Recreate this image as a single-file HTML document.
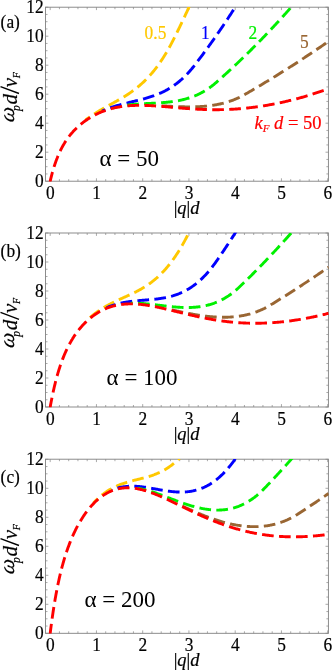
<!DOCTYPE html>
<html><head><meta charset="utf-8"><style>
html,body{margin:0;padding:0;background:#fff;}
svg{display:block;font-family:"Liberation Serif",serif;font-size:17px;fill:#000;}
</style></head><body>
<svg width="332" height="670" viewBox="0 0 332 670">
<rect width="332" height="670" fill="#fff"/>
<g style="will-change:transform">
<clipPath id="c0"><rect x="45.2" y="6.9" width="283.5" height="174.6"/></clipPath>
<rect x="45.5" y="7.2" width="282.9" height="174.0" fill="none" stroke="#808080" stroke-width="0.9"/>
<path d="M50.20 181.2 v-2.9 M50.20 7.2 v2.9 M59.45 181.2 v-2.0 M59.45 7.2 v2.0 M68.70 181.2 v-2.0 M68.70 7.2 v2.0 M77.95 181.2 v-2.0 M77.95 7.2 v2.0 M87.20 181.2 v-2.0 M87.20 7.2 v2.0 M96.45 181.2 v-2.9 M96.45 7.2 v2.9 M105.70 181.2 v-2.0 M105.70 7.2 v2.0 M114.95 181.2 v-2.0 M114.95 7.2 v2.0 M124.20 181.2 v-2.0 M124.20 7.2 v2.0 M133.45 181.2 v-2.0 M133.45 7.2 v2.0 M142.70 181.2 v-2.9 M142.70 7.2 v2.9 M151.95 181.2 v-2.0 M151.95 7.2 v2.0 M161.20 181.2 v-2.0 M161.20 7.2 v2.0 M170.45 181.2 v-2.0 M170.45 7.2 v2.0 M179.70 181.2 v-2.0 M179.70 7.2 v2.0 M188.95 181.2 v-2.9 M188.95 7.2 v2.9 M198.20 181.2 v-2.0 M198.20 7.2 v2.0 M207.45 181.2 v-2.0 M207.45 7.2 v2.0 M216.70 181.2 v-2.0 M216.70 7.2 v2.0 M225.95 181.2 v-2.0 M225.95 7.2 v2.0 M235.20 181.2 v-2.9 M235.20 7.2 v2.9 M244.45 181.2 v-2.0 M244.45 7.2 v2.0 M253.70 181.2 v-2.0 M253.70 7.2 v2.0 M262.95 181.2 v-2.0 M262.95 7.2 v2.0 M272.20 181.2 v-2.0 M272.20 7.2 v2.0 M281.45 181.2 v-2.9 M281.45 7.2 v2.9 M290.70 181.2 v-2.0 M290.70 7.2 v2.0 M299.95 181.2 v-2.0 M299.95 7.2 v2.0 M309.20 181.2 v-2.0 M309.20 7.2 v2.0 M318.45 181.2 v-2.0 M318.45 7.2 v2.0 M327.70 181.2 v-2.9 M327.70 7.2 v2.9 M45.5 181.20 h2.9 M328.4 181.20 h-2.9 M45.5 173.95 h2.0 M328.4 173.95 h-2.0 M45.5 166.70 h2.0 M328.4 166.70 h-2.0 M45.5 159.45 h2.0 M328.4 159.45 h-2.0 M45.5 152.20 h2.9 M328.4 152.20 h-2.9 M45.5 144.95 h2.0 M328.4 144.95 h-2.0 M45.5 137.70 h2.0 M328.4 137.70 h-2.0 M45.5 130.45 h2.0 M328.4 130.45 h-2.0 M45.5 123.20 h2.9 M328.4 123.20 h-2.9 M45.5 115.95 h2.0 M328.4 115.95 h-2.0 M45.5 108.70 h2.0 M328.4 108.70 h-2.0 M45.5 101.45 h2.0 M328.4 101.45 h-2.0 M45.5 94.20 h2.9 M328.4 94.20 h-2.9 M45.5 86.95 h2.0 M328.4 86.95 h-2.0 M45.5 79.70 h2.0 M328.4 79.70 h-2.0 M45.5 72.45 h2.0 M328.4 72.45 h-2.0 M45.5 65.20 h2.9 M328.4 65.20 h-2.9 M45.5 57.95 h2.0 M328.4 57.95 h-2.0 M45.5 50.70 h2.0 M328.4 50.70 h-2.0 M45.5 43.45 h2.0 M328.4 43.45 h-2.0 M45.5 36.20 h2.9 M328.4 36.20 h-2.9 M45.5 28.95 h2.0 M328.4 28.95 h-2.0 M45.5 21.70 h2.0 M328.4 21.70 h-2.0 M45.5 14.45 h2.0 M328.4 14.45 h-2.0 M45.5 7.20 h2.9 M328.4 7.20 h-2.9" stroke="#858585" stroke-width="0.7" fill="none"/>
<g clip-path="url(#c0)" fill="none" stroke-width="2.9" stroke-dasharray="11.7 5.3">
<path d="M85.74 119.87 L86.52 119.28 L87.29 118.70 L88.07 118.13 L88.84 117.57 L89.62 117.03 L90.40 116.49 L91.17 115.96 L91.95 115.43 L92.72 114.92 L93.50 114.41 L94.28 113.91 L95.05 113.41 L95.83 112.93 L96.60 112.45 L97.38 111.97 L98.16 111.50 L98.93 111.03 L99.71 110.57 L100.48 110.12 L101.26 109.67 L102.04 109.22 L102.81 108.77 L103.59 108.33 L104.36 107.89 L105.14 107.46 L105.92 107.02 L106.69 106.59 L107.47 106.16 L108.24 105.73 L109.02 105.30 L109.80 104.88 L110.57 104.45 L111.35 104.02 L112.12 103.60 L112.90 103.17 L113.68 102.74 L114.45 102.31 L115.23 101.88 L116.00 101.44 L116.78 101.01 L117.56 100.57 L118.33 100.13 L119.11 99.68 L119.88 99.23 L120.66 98.78 L121.44 98.32 L122.21 97.86 L122.99 97.39 L123.76 96.92 L124.54 96.44 L125.32 95.96 L126.09 95.47 L126.87 94.97 L127.64 94.47 L128.42 93.96 L129.20 93.44 L129.97 92.91 L130.75 92.37 L131.52 91.82 L132.30 91.27 L133.08 90.70 L133.85 90.13 L134.63 89.54 L135.40 88.95 L136.18 88.34 L136.96 87.72 L137.73 87.09 L138.51 86.45 L139.28 85.80 L140.06 85.13 L140.84 84.45 L141.61 83.76 L142.39 83.05 L143.16 82.33 L143.94 81.59 L144.72 80.84 L145.49 80.07 L146.27 79.29 L147.04 78.49 L147.82 77.68 L148.60 76.85 L149.37 76.00 L150.15 75.14 L150.92 74.26 L151.70 73.36 L152.48 72.44 L153.25 71.50 L154.03 70.55 L154.80 69.58 L155.58 68.58 L156.36 67.57 L157.13 66.54 L157.91 65.48 L158.68 64.41 L159.46 63.31 L160.24 62.20 L161.01 61.06 L161.79 59.90 L162.56 58.72 L163.34 57.51 L164.12 56.28 L164.89 55.03 L165.67 53.76 L166.44 52.46 L167.22 51.14 L168.00 49.79 L168.77 48.41 L169.55 47.02 L170.32 45.59 L171.10 44.14 L171.88 42.67 L172.65 41.16 L173.43 39.63 L174.20 38.09 L174.98 36.54 L175.76 34.98 L176.53 33.41 L177.31 31.83 L178.08 30.25 L178.86 28.65 L179.64 27.05 L180.41 25.44 L181.19 23.83 L181.96 22.20 L182.74 20.57 L183.52 18.93 L184.29 17.28 L185.07 15.62 L185.84 13.95 L186.62 12.28 L187.40 10.60 L188.17 8.91 L188.95 7.21 L189.72 5.50 L190.50 3.78 L191.28 2.06 L192.05 0.33 L192.83 -1.41 L193.60 -3.16" stroke="#ffc800" stroke-dashoffset="6.75"/>
<path d="M102.04 111.07 L102.81 110.73 L103.59 110.40 L104.36 110.07 L105.14 109.76 L105.92 109.45 L106.69 109.14 L107.47 108.85 L108.24 108.56 L109.02 108.27 L109.80 107.99 L110.57 107.72 L111.35 107.46 L112.12 107.20 L112.90 106.94 L113.68 106.69 L114.45 106.44 L115.23 106.20 L116.00 105.97 L116.78 105.74 L117.56 105.51 L118.33 105.29 L119.11 105.07 L119.88 104.85 L120.66 104.64 L121.44 104.43 L122.21 104.22 L122.99 104.02 L123.76 103.82 L124.54 103.62 L125.32 103.42 L126.09 103.23 L126.87 103.04 L127.64 102.85 L128.42 102.66 L129.20 102.47 L129.97 102.28 L130.75 102.09 L131.52 101.91 L132.30 101.72 L133.08 101.53 L133.85 101.35 L134.63 101.16 L135.40 100.97 L136.18 100.78 L136.96 100.59 L137.73 100.40 L138.51 100.21 L139.28 100.02 L140.06 99.82 L140.84 99.62 L141.61 99.42 L142.39 99.21 L143.16 99.01 L143.94 98.80 L144.72 98.58 L145.49 98.36 L146.27 98.14 L147.04 97.92 L147.82 97.69 L148.60 97.45 L149.37 97.21 L150.15 96.96 L150.92 96.71 L151.70 96.45 L152.48 96.19 L153.25 95.92 L154.03 95.65 L154.80 95.36 L155.58 95.07 L156.36 94.77 L157.13 94.47 L157.91 94.16 L158.68 93.84 L159.46 93.51 L160.24 93.17 L161.01 92.82 L161.79 92.46 L162.56 92.10 L163.34 91.72 L164.12 91.34 L164.89 90.94 L165.67 90.54 L166.44 90.12 L167.22 89.69 L168.00 89.25 L168.77 88.80 L169.55 88.34 L170.32 87.86 L171.10 87.37 L171.88 86.87 L172.65 86.36 L173.43 85.83 L174.20 85.29 L174.98 84.74 L175.76 84.17 L176.53 83.59 L177.31 82.99 L178.08 82.38 L178.86 81.75 L179.64 81.11 L180.41 80.45 L181.19 79.78 L181.96 79.08 L182.74 78.38 L183.52 77.65 L184.29 76.91 L185.07 76.15 L185.84 75.37 L186.62 74.57 L187.40 73.76 L188.17 72.93 L188.95 72.07 L189.72 71.20 L190.50 70.31 L191.28 69.40 L192.05 68.46 L192.83 67.51 L193.60 66.54 L194.38 65.54 L195.16 64.54 L195.93 63.53 L196.71 62.52 L197.48 61.50 L198.26 60.48 L199.04 59.46 L199.81 58.43 L200.59 57.40 L201.36 56.36 L202.14 55.32 L202.91 54.28 L203.69 53.23 L204.47 52.17 L205.24 51.12 L206.02 50.06 L206.79 48.99 L207.57 47.92 L208.35 46.85 L209.12 45.77 L209.90 44.69 L210.67 43.61 L211.45 42.52 L212.23 41.42 L213.00 40.33 L213.78 39.22 L214.55 38.12 L215.33 37.01 L216.11 35.89 L216.88 34.78 L217.66 33.65 L218.43 32.53 L219.21 31.40 L219.99 30.26 L220.76 29.12 L221.54 27.98 L222.31 26.84 L223.09 25.69 L223.87 24.53 L224.64 23.37 L225.42 22.21 L226.19 21.04 L226.97 19.87 L227.75 18.70 L228.52 17.52 L229.30 16.33 L230.07 15.15 L230.85 13.95 L231.63 12.76 L232.40 11.56 L233.18 10.35 L233.95 9.15 L234.73 7.94 L235.51 6.72 L236.28 5.50 L237.06 4.28 L237.83 3.05 L238.61 1.81 L239.39 0.58 L240.16 -0.66 L240.94 -1.91" stroke="#0000ff" stroke-dashoffset="8.20"/>
<path d="M123.76 105.64 L124.54 105.52 L125.32 105.41 L126.09 105.29 L126.87 105.19 L127.64 105.09 L128.42 104.99 L129.20 104.89 L129.97 104.80 L130.75 104.72 L131.52 104.63 L132.30 104.56 L133.08 104.48 L133.85 104.41 L134.63 104.34 L135.40 104.27 L136.18 104.21 L136.96 104.15 L137.73 104.09 L138.51 104.03 L139.28 103.98 L140.06 103.93 L140.84 103.88 L141.61 103.83 L142.39 103.78 L143.16 103.74 L143.94 103.69 L144.72 103.65 L145.49 103.61 L146.27 103.57 L147.04 103.53 L147.82 103.49 L148.60 103.45 L149.37 103.41 L150.15 103.37 L150.92 103.33 L151.70 103.29 L152.48 103.25 L153.25 103.21 L154.03 103.17 L154.80 103.13 L155.58 103.09 L156.36 103.04 L157.13 103.00 L157.91 102.95 L158.68 102.90 L159.46 102.85 L160.24 102.80 L161.01 102.75 L161.79 102.69 L162.56 102.63 L163.34 102.57 L164.12 102.51 L164.89 102.44 L165.67 102.37 L166.44 102.29 L167.22 102.22 L168.00 102.14 L168.77 102.05 L169.55 101.97 L170.32 101.87 L171.10 101.78 L171.88 101.68 L172.65 101.57 L173.43 101.46 L174.20 101.35 L174.98 101.23 L175.76 101.10 L176.53 100.97 L177.31 100.84 L178.08 100.70 L178.86 100.55 L179.64 100.40 L180.41 100.24 L181.19 100.07 L181.96 99.90 L182.74 99.72 L183.52 99.53 L184.29 99.33 L185.07 99.13 L185.84 98.92 L186.62 98.71 L187.40 98.48 L188.17 98.25 L188.95 98.00 L189.72 97.75 L190.50 97.49 L191.28 97.23 L192.05 96.95 L192.83 96.66 L193.60 96.36 L194.38 96.06 L195.16 95.74 L195.93 95.41 L196.71 95.08 L197.48 94.73 L198.26 94.37 L199.04 94.00 L199.81 93.62 L200.59 93.22 L201.36 92.82 L202.14 92.40 L202.91 91.97 L203.69 91.53 L204.47 91.07 L205.24 90.61 L206.02 90.12 L206.79 89.63 L207.57 89.12 L208.35 88.60 L209.12 88.06 L209.90 87.51 L210.67 86.94 L211.45 86.36 L212.23 85.76 L213.00 85.15 L213.78 84.52 L214.55 83.88 L215.33 83.22 L216.11 82.54 L216.88 81.86 L217.66 81.18 L218.43 80.49 L219.21 79.81 L219.99 79.12 L220.76 78.43 L221.54 77.73 L222.31 77.04 L223.09 76.34 L223.87 75.64 L224.64 74.94 L225.42 74.24 L226.19 73.53 L226.97 72.83 L227.75 72.12 L228.52 71.40 L229.30 70.69 L230.07 69.98 L230.85 69.26 L231.63 68.54 L232.40 67.82 L233.18 67.09 L233.95 66.37 L234.73 65.64 L235.51 64.91 L236.28 64.18 L237.06 63.45 L237.83 62.71 L238.61 61.97 L239.39 61.23 L240.16 60.49 L240.94 59.75 L241.71 59.00 L242.49 58.25 L243.27 57.50 L244.04 56.75 L244.82 56.00 L245.59 55.24 L246.37 54.48 L247.15 53.72 L247.92 52.96 L248.70 52.20 L249.47 51.43 L250.25 50.66 L251.03 49.89 L251.80 49.12 L252.58 48.34 L253.35 47.57 L254.13 46.79 L254.91 46.01 L255.68 45.22 L256.46 44.44 L257.23 43.65 L258.01 42.86 L258.79 42.07 L259.56 41.28 L260.34 40.49 L261.11 39.69 L261.89 38.89 L262.67 38.09 L263.44 37.29 L264.22 36.48 L264.99 35.67 L265.77 34.86 L266.55 34.05 L267.32 33.24 L268.10 32.42 L268.87 31.61 L269.65 30.79 L270.43 29.97 L271.20 29.14 L271.98 28.32 L272.75 27.49 L273.53 26.66 L274.31 25.83 L275.08 24.99 L275.86 24.16 L276.63 23.32 L277.41 22.48 L278.19 21.64 L278.96 20.79 L279.74 19.95 L280.51 19.10 L281.29 18.25 L282.07 17.40 L282.84 16.54 L283.62 15.69 L284.39 14.83 L285.17 13.97 L285.95 13.11 L286.72 12.24 L287.50 11.38 L288.27 10.51 L289.05 9.64 L289.83 8.77 L290.60 7.89 L291.38 7.01 L292.15 6.14 L292.93 5.26 L293.71 4.37 L294.48 3.49 L295.26 2.60 L296.03 1.71 L296.81 0.82 L297.59 -0.07 L298.36 -0.97 L299.14 -1.86" stroke="#00f000" stroke-dashoffset="13.52"/>
<path d="M161.79 105.80 L162.56 105.84 L163.34 105.89 L164.12 105.93 L164.89 105.97 L165.67 106.01 L166.44 106.06 L167.22 106.10 L168.00 106.14 L168.77 106.18 L169.55 106.23 L170.32 106.27 L171.10 106.31 L171.88 106.35 L172.65 106.39 L173.43 106.42 L174.20 106.46 L174.98 106.50 L175.76 106.53 L176.53 106.56 L177.31 106.60 L178.08 106.63 L178.86 106.66 L179.64 106.69 L180.41 106.71 L181.19 106.74 L181.96 106.76 L182.74 106.78 L183.52 106.80 L184.29 106.82 L185.07 106.83 L185.84 106.84 L186.62 106.85 L187.40 106.86 L188.17 106.87 L188.95 106.87 L189.72 106.87 L190.50 106.87 L191.28 106.86 L192.05 106.85 L192.83 106.84 L193.60 106.83 L194.38 106.81 L195.16 106.79 L195.93 106.77 L196.71 106.74 L197.48 106.71 L198.26 106.68 L199.04 106.64 L199.81 106.60 L200.59 106.56 L201.36 106.51 L202.14 106.46 L202.91 106.40 L203.69 106.34 L204.47 106.27 L205.24 106.21 L206.02 106.13 L206.79 106.06 L207.57 105.97 L208.35 105.89 L209.12 105.80 L209.90 105.70 L210.67 105.60 L211.45 105.49 L212.23 105.38 L213.00 105.26 L213.78 105.14 L214.55 105.01 L215.33 104.88 L216.11 104.74 L216.88 104.60 L217.66 104.45 L218.43 104.29 L219.21 104.13 L219.99 103.96 L220.76 103.79 L221.54 103.61 L222.31 103.42 L223.09 103.23 L223.87 103.02 L224.64 102.82 L225.42 102.60 L226.19 102.38 L226.97 102.15 L227.75 101.91 L228.52 101.67 L229.30 101.42 L230.07 101.16 L230.85 100.89 L231.63 100.61 L232.40 100.33 L233.18 100.03 L233.95 99.73 L234.73 99.42 L235.51 99.10 L236.28 98.77 L237.06 98.44 L237.83 98.09 L238.61 97.73 L239.39 97.37 L240.16 96.99 L240.94 96.60 L241.71 96.20 L242.49 95.80 L243.27 95.38 L244.04 94.95 L244.82 94.51 L245.59 94.06 L246.37 93.61 L247.15 93.16 L247.92 92.71 L248.70 92.26 L249.47 91.81 L250.25 91.35 L251.03 90.90 L251.80 90.44 L252.58 89.99 L253.35 89.53 L254.13 89.07 L254.91 88.62 L255.68 88.16 L256.46 87.70 L257.23 87.24 L258.01 86.78 L258.79 86.31 L259.56 85.85 L260.34 85.39 L261.11 84.92 L261.89 84.46 L262.67 83.99 L263.44 83.52 L264.22 83.05 L264.99 82.58 L265.77 82.12 L266.55 81.64 L267.32 81.17 L268.10 80.70 L268.87 80.23 L269.65 79.75 L270.43 79.28 L271.20 78.80 L271.98 78.33 L272.75 77.85 L273.53 77.37 L274.31 76.89 L275.08 76.42 L275.86 75.94 L276.63 75.45 L277.41 74.97 L278.19 74.49 L278.96 74.01 L279.74 73.52 L280.51 73.04 L281.29 72.55 L282.07 72.06 L282.84 71.58 L283.62 71.09 L284.39 70.60 L285.17 70.11 L285.95 69.62 L286.72 69.13 L287.50 68.63 L288.27 68.14 L289.05 67.65 L289.83 67.15 L290.60 66.65 L291.38 66.16 L292.15 65.66 L292.93 65.16 L293.71 64.66 L294.48 64.16 L295.26 63.66 L296.03 63.16 L296.81 62.66 L297.59 62.16 L298.36 61.65 L299.14 61.15 L299.91 60.64 L300.69 60.14 L301.47 59.63 L302.24 59.12 L303.02 58.61 L303.79 58.10 L304.57 57.59 L305.35 57.08 L306.12 56.57 L306.90 56.05 L307.67 55.54 L308.45 55.03 L309.23 54.51 L310.00 53.99 L310.78 53.48 L311.55 52.96 L312.33 52.44 L313.11 51.92 L313.88 51.40 L314.66 50.88 L315.43 50.36 L316.21 49.84 L316.99 49.31 L317.76 48.79 L318.54 48.26 L319.31 47.74 L320.09 47.21 L320.87 46.68 L321.64 46.15 L322.42 45.62 L323.19 45.09 L323.97 44.56 L324.75 44.03 L325.52 43.50 L326.30 42.97 L327.07 42.43 L327.85 41.90 L328.62 41.36" stroke="#996633" stroke-dashoffset="0.45"/>
<path d="M50.20 183.40 L50.20 181.20 L50.39 180.37 L50.59 179.55 L50.78 178.74 L50.98 177.95 L51.17 177.17 L51.37 176.40 L51.56 175.65 L51.76 174.90 L51.95 174.17 L52.14 173.44 L52.34 172.73 L52.53 172.03 L52.73 171.34 L52.92 170.66 L53.12 169.99 L53.31 169.33 L53.50 168.68 L53.70 168.04 L53.89 167.40 L54.09 166.78 L54.28 166.17 L54.48 165.56 L54.67 164.96 L54.86 164.38 L55.06 163.80 L55.25 163.23 L55.45 162.66 L55.64 162.11 L55.84 161.56 L56.03 161.02 L56.22 160.48 L56.42 159.96 L56.61 159.44 L56.81 158.93 L57.00 158.42 L57.20 157.93 L57.39 157.43 L57.58 156.95 L57.78 156.47 L57.97 156.00 L58.17 155.53 L58.36 155.07 L58.56 154.62 L58.75 154.17 L58.95 153.73 L59.14 153.29 L59.33 152.86 L59.53 152.43 L59.72 152.01 L59.92 151.59 L60.11 151.18 L60.31 150.77 L60.50 150.37 L60.69 149.98 L60.89 149.59 L61.08 149.20 L61.28 148.82 L61.47 148.44 L61.67 148.06 L61.86 147.69 L62.05 147.33 L62.25 146.97 L62.44 146.61 L62.64 146.26 L62.83 145.91 L63.03 145.56 L63.22 145.22 L63.41 144.88 L63.61 144.55 L63.80 144.22 L64.00 143.89 L64.19 143.57 L64.39 143.25 L64.58 142.93 L64.77 142.61 L64.97 142.30 L65.16 142.00 L65.36 141.69 L65.55 141.39 L65.75 141.09 L65.94 140.80 L66.14 140.50 L66.33 140.21 L66.52 139.93 L66.72 139.64 L66.91 139.36 L67.11 139.08 L67.30 138.81 L67.50 138.53 L67.69 138.26 L67.88 137.99 L68.08 137.73 L68.27 137.46 L68.47 137.20 L68.66 136.94 L68.86 136.69 L69.05 136.43 L69.24 136.18 L69.44 135.93 L69.63 135.68 L69.83 135.44 L70.02 135.19 L70.22 134.95 L70.41 134.71 L70.60 134.48 L70.80 134.24 L70.99 134.01 L71.19 133.78 L71.38 133.55 L71.58 133.32 L71.77 133.09 L71.96 132.87 L72.16 132.65 L72.35 132.43 L72.55 132.21 L72.74 131.99 L72.94 131.77 L73.13 131.56 L73.33 131.35 L74.10 130.52 L74.88 129.71 L75.65 128.93 L76.43 128.17 L77.20 127.43 L77.98 126.71 L78.76 126.01 L79.53 125.33 L80.31 124.67 L81.08 124.02 L81.86 123.40 L82.64 122.78 L83.41 122.19 L84.19 121.61 L84.96 121.04 L85.74 120.49 L86.52 119.95 L87.29 119.43 L88.07 118.91 L88.84 118.42 L89.62 117.93 L90.40 117.46 L91.17 117.00 L91.95 116.55 L92.72 116.11 L93.50 115.69 L94.28 115.27 L95.05 114.87 L95.83 114.47 L96.60 114.09 L97.38 113.72 L98.16 113.36 L98.93 113.01 L99.71 112.66 L100.48 112.33 L101.26 112.01 L102.04 111.70 L102.81 111.39 L103.59 111.10 L104.36 110.82 L105.14 110.54 L105.92 110.27 L106.69 110.01 L107.47 109.76 L108.24 109.52 L109.02 109.29 L109.80 109.06 L110.57 108.85 L111.35 108.64 L112.12 108.43 L112.90 108.24 L113.68 108.05 L114.45 107.87 L115.23 107.70 L116.00 107.54 L116.78 107.38 L117.56 107.23 L118.33 107.09 L119.11 106.95 L119.88 106.82 L120.66 106.69 L121.44 106.57 L122.21 106.46 L122.99 106.36 L123.76 106.26 L124.54 106.16 L125.32 106.08 L126.09 105.99 L126.87 105.92 L127.64 105.85 L128.42 105.78 L129.20 105.72 L129.97 105.66 L130.75 105.61 L131.52 105.56 L132.30 105.52 L133.08 105.49 L133.85 105.45 L134.63 105.43 L135.40 105.40 L136.18 105.38 L136.96 105.37 L137.73 105.36 L138.51 105.35 L139.28 105.34 L140.06 105.34 L140.84 105.35 L141.61 105.35 L142.39 105.36 L143.16 105.38 L143.94 105.39 L144.72 105.41 L145.49 105.43 L146.27 105.46 L147.04 105.49 L147.82 105.52 L148.60 105.55 L149.37 105.58 L150.15 105.62 L150.92 105.66 L151.70 105.70 L152.48 105.75 L153.25 105.79 L154.03 105.84 L154.80 105.89 L155.58 105.94 L156.36 105.99 L157.13 106.05 L157.91 106.10 L158.68 106.16 L159.46 106.22 L160.24 106.28 L161.01 106.34 L161.79 106.40 L162.56 106.46 L163.34 106.53 L164.12 106.59 L164.89 106.66 L165.67 106.72 L166.44 106.79 L167.22 106.85 L168.00 106.92 L168.77 106.99 L169.55 107.06 L170.32 107.12 L171.10 107.19 L171.88 107.26 L172.65 107.33 L173.43 107.40 L174.20 107.46 L174.98 107.53 L175.76 107.60 L176.53 107.67 L177.31 107.73 L178.08 107.80 L178.86 107.87 L179.64 107.93 L180.41 108.00 L181.19 108.06 L181.96 108.12 L182.74 108.19 L183.52 108.25 L184.29 108.31 L185.07 108.37 L185.84 108.43 L186.62 108.49 L187.40 108.55 L188.17 108.61 L188.95 108.66 L189.72 108.72 L190.50 108.77 L191.28 108.82 L192.05 108.87 L192.83 108.92 L193.60 108.97 L194.38 109.02 L195.16 109.07 L195.93 109.11 L196.71 109.15 L197.48 109.20 L198.26 109.24 L199.04 109.27 L199.81 109.31 L200.59 109.35 L201.36 109.38 L202.14 109.41 L202.91 109.44 L203.69 109.47 L204.47 109.50 L205.24 109.53 L206.02 109.55 L206.79 109.57 L207.57 109.59 L208.35 109.61 L209.12 109.63 L209.90 109.65 L210.67 109.66 L211.45 109.67 L212.23 109.68 L213.00 109.69 L213.78 109.69 L214.55 109.70 L215.33 109.70 L216.11 109.70 L216.88 109.70 L217.66 109.69 L218.43 109.69 L219.21 109.68 L219.99 109.67 L220.76 109.66 L221.54 109.64 L222.31 109.63 L223.09 109.61 L223.87 109.59 L224.64 109.57 L225.42 109.54 L226.19 109.52 L226.97 109.49 L227.75 109.46 L228.52 109.43 L229.30 109.39 L230.07 109.36 L230.85 109.32 L231.63 109.28 L232.40 109.23 L233.18 109.19 L233.95 109.14 L234.73 109.09 L235.51 109.04 L236.28 108.99 L237.06 108.93 L237.83 108.88 L238.61 108.82 L239.39 108.76 L240.16 108.69 L240.94 108.63 L241.71 108.56 L242.49 108.49 L243.27 108.42 L244.04 108.34 L244.82 108.27 L245.59 108.19 L246.37 108.11 L247.15 108.03 L247.92 107.95 L248.70 107.86 L249.47 107.77 L250.25 107.68 L251.03 107.59 L251.80 107.49 L252.58 107.40 L253.35 107.30 L254.13 107.20 L254.91 107.10 L255.68 106.99 L256.46 106.89 L257.23 106.78 L258.01 106.67 L258.79 106.56 L259.56 106.44 L260.34 106.33 L261.11 106.21 L261.89 106.09 L262.67 105.97 L263.44 105.84 L264.22 105.72 L264.99 105.59 L265.77 105.46 L266.55 105.33 L267.32 105.20 L268.10 105.06 L268.87 104.93 L269.65 104.79 L270.43 104.65 L271.20 104.50 L271.98 104.36 L272.75 104.21 L273.53 104.06 L274.31 103.91 L275.08 103.76 L275.86 103.61 L276.63 103.45 L277.41 103.29 L278.19 103.13 L278.96 102.97 L279.74 102.81 L280.51 102.64 L281.29 102.48 L282.07 102.31 L282.84 102.14 L283.62 101.97 L284.39 101.79 L285.17 101.61 L285.95 101.44 L286.72 101.26 L287.50 101.08 L288.27 100.89 L289.05 100.71 L289.83 100.52 L290.60 100.33 L291.38 100.14 L292.15 99.95 L292.93 99.75 L293.71 99.55 L294.48 99.36 L295.26 99.16 L296.03 98.95 L296.81 98.75 L297.59 98.54 L298.36 98.33 L299.14 98.12 L299.91 97.91 L300.69 97.70 L301.47 97.48 L302.24 97.26 L303.02 97.04 L303.79 96.82 L304.57 96.60 L305.35 96.37 L306.12 96.14 L306.90 95.91 L307.67 95.68 L308.45 95.44 L309.23 95.21 L310.00 94.97 L310.78 94.73 L311.55 94.48 L312.33 94.24 L313.11 93.99 L313.88 93.74 L314.66 93.49 L315.43 93.23 L316.21 92.97 L316.99 92.71 L317.76 92.45 L318.54 92.19 L319.31 91.92 L320.09 91.65 L320.87 91.38 L321.64 91.11 L322.42 90.83 L323.19 90.56 L323.97 90.29 L324.75 90.02 L325.52 89.74 L326.30 89.47 L327.07 89.20 L327.85 88.93 L328.62 88.66" stroke="#ff0000" stroke-dashoffset="0.00"/>
</g>
<text transform="translate(50.30 198.70) scale(0.94 1)" text-anchor="middle" font-size="18.5" stroke-width="0.2" stroke="#000">0</text>
<text transform="translate(96.55 198.70) scale(0.94 1)" text-anchor="middle" font-size="18.5" stroke-width="0.2" stroke="#000">1</text>
<text transform="translate(142.80 198.70) scale(0.94 1)" text-anchor="middle" font-size="18.5" stroke-width="0.2" stroke="#000">2</text>
<text transform="translate(189.05 198.70) scale(0.94 1)" text-anchor="middle" font-size="18.5" stroke-width="0.2" stroke="#000">3</text>
<text transform="translate(235.30 198.70) scale(0.94 1)" text-anchor="middle" font-size="18.5" stroke-width="0.2" stroke="#000">4</text>
<text transform="translate(281.55 198.70) scale(0.94 1)" text-anchor="middle" font-size="18.5" stroke-width="0.2" stroke="#000">5</text>
<text transform="translate(327.80 198.70) scale(0.94 1)" text-anchor="middle" font-size="18.5" stroke-width="0.2" stroke="#000">6</text>
<text transform="translate(43.60 186.90) scale(0.94 1)" text-anchor="end" font-size="18.5" stroke-width="0.2" stroke="#000">0</text>
<text transform="translate(43.60 157.90) scale(0.94 1)" text-anchor="end" font-size="18.5" stroke-width="0.2" stroke="#000">2</text>
<text transform="translate(43.60 128.90) scale(0.94 1)" text-anchor="end" font-size="18.5" stroke-width="0.2" stroke="#000">4</text>
<text transform="translate(43.60 99.90) scale(0.94 1)" text-anchor="end" font-size="18.5" stroke-width="0.2" stroke="#000">6</text>
<text transform="translate(43.60 70.90) scale(0.94 1)" text-anchor="end" font-size="18.5" stroke-width="0.2" stroke="#000">8</text>
<text transform="translate(43.60 41.90) scale(0.94 1)" text-anchor="end" font-size="18.5" stroke-width="0.2" stroke="#000">10</text>
<text transform="translate(43.60 12.90) scale(0.94 1)" text-anchor="end" font-size="18.5" stroke-width="0.2" stroke="#000">12</text>
<text transform="translate(0.60 28.40) scale(0.94 1)" text-anchor="start" font-size="18.5" stroke-width="0.2" stroke="#000">(a)</text>
<text transform="translate(186.60 213.80) scale(1.0 1)" text-anchor="middle" font-size="18.5" stroke-width="0.2" stroke="#000">|<tspan font-style="italic">q</tspan>|<tspan font-style="italic">d</tspan></text>
<g transform="translate(17.2 121.70) rotate(-90)" font-size="21" stroke="#000" stroke-width="0.2"><text x="-1.5" y="-3.2" font-size="21" font-style="italic" transform="skewX(-10)">ω</text><text x="10.7" y="2.7" font-size="11.5" font-style="italic">p</text><text x="17.2" y="0" font-style="italic">d</text><text x="34.4" y="0" font-style="italic">v</text><text x="43.4" y="3.0" font-size="10" font-style="italic">F</text><path d="M28.2 1.8 L35.1 -16.7" stroke="#000" stroke-width="1.35" fill="none"/></g>
<text transform="translate(129.20 165.60) scale(1.0 1)" text-anchor="middle" font-size="23" stroke-width="0" stroke="#000">α = 50</text>
<clipPath id="c1"><rect x="45.2" y="232.7" width="283.5" height="174.6"/></clipPath>
<rect x="45.5" y="233.0" width="282.9" height="174.0" fill="none" stroke="#808080" stroke-width="0.9"/>
<path d="M50.20 407.0 v-2.9 M50.20 233.0 v2.9 M59.45 407.0 v-2.0 M59.45 233.0 v2.0 M68.70 407.0 v-2.0 M68.70 233.0 v2.0 M77.95 407.0 v-2.0 M77.95 233.0 v2.0 M87.20 407.0 v-2.0 M87.20 233.0 v2.0 M96.45 407.0 v-2.9 M96.45 233.0 v2.9 M105.70 407.0 v-2.0 M105.70 233.0 v2.0 M114.95 407.0 v-2.0 M114.95 233.0 v2.0 M124.20 407.0 v-2.0 M124.20 233.0 v2.0 M133.45 407.0 v-2.0 M133.45 233.0 v2.0 M142.70 407.0 v-2.9 M142.70 233.0 v2.9 M151.95 407.0 v-2.0 M151.95 233.0 v2.0 M161.20 407.0 v-2.0 M161.20 233.0 v2.0 M170.45 407.0 v-2.0 M170.45 233.0 v2.0 M179.70 407.0 v-2.0 M179.70 233.0 v2.0 M188.95 407.0 v-2.9 M188.95 233.0 v2.9 M198.20 407.0 v-2.0 M198.20 233.0 v2.0 M207.45 407.0 v-2.0 M207.45 233.0 v2.0 M216.70 407.0 v-2.0 M216.70 233.0 v2.0 M225.95 407.0 v-2.0 M225.95 233.0 v2.0 M235.20 407.0 v-2.9 M235.20 233.0 v2.9 M244.45 407.0 v-2.0 M244.45 233.0 v2.0 M253.70 407.0 v-2.0 M253.70 233.0 v2.0 M262.95 407.0 v-2.0 M262.95 233.0 v2.0 M272.20 407.0 v-2.0 M272.20 233.0 v2.0 M281.45 407.0 v-2.9 M281.45 233.0 v2.9 M290.70 407.0 v-2.0 M290.70 233.0 v2.0 M299.95 407.0 v-2.0 M299.95 233.0 v2.0 M309.20 407.0 v-2.0 M309.20 233.0 v2.0 M318.45 407.0 v-2.0 M318.45 233.0 v2.0 M327.70 407.0 v-2.9 M327.70 233.0 v2.9 M45.5 407.00 h2.9 M328.4 407.00 h-2.9 M45.5 399.75 h2.0 M328.4 399.75 h-2.0 M45.5 392.50 h2.0 M328.4 392.50 h-2.0 M45.5 385.25 h2.0 M328.4 385.25 h-2.0 M45.5 378.00 h2.9 M328.4 378.00 h-2.9 M45.5 370.75 h2.0 M328.4 370.75 h-2.0 M45.5 363.50 h2.0 M328.4 363.50 h-2.0 M45.5 356.25 h2.0 M328.4 356.25 h-2.0 M45.5 349.00 h2.9 M328.4 349.00 h-2.9 M45.5 341.75 h2.0 M328.4 341.75 h-2.0 M45.5 334.50 h2.0 M328.4 334.50 h-2.0 M45.5 327.25 h2.0 M328.4 327.25 h-2.0 M45.5 320.00 h2.9 M328.4 320.00 h-2.9 M45.5 312.75 h2.0 M328.4 312.75 h-2.0 M45.5 305.50 h2.0 M328.4 305.50 h-2.0 M45.5 298.25 h2.0 M328.4 298.25 h-2.0 M45.5 291.00 h2.9 M328.4 291.00 h-2.9 M45.5 283.75 h2.0 M328.4 283.75 h-2.0 M45.5 276.50 h2.0 M328.4 276.50 h-2.0 M45.5 269.25 h2.0 M328.4 269.25 h-2.0 M45.5 262.00 h2.9 M328.4 262.00 h-2.9 M45.5 254.75 h2.0 M328.4 254.75 h-2.0 M45.5 247.50 h2.0 M328.4 247.50 h-2.0 M45.5 240.25 h2.0 M328.4 240.25 h-2.0 M45.5 233.00 h2.9 M328.4 233.00 h-2.9" stroke="#858585" stroke-width="0.7" fill="none"/>
<g clip-path="url(#c1)" fill="none" stroke-width="2.9" stroke-dasharray="11.7 5.3">
<path d="M89.62 317.98 L90.40 317.29 L91.17 316.62 L91.95 315.96 L92.72 315.31 L93.50 314.69 L94.28 314.07 L95.05 313.47 L95.83 312.88 L96.60 312.31 L97.38 311.75 L98.16 311.20 L98.93 310.66 L99.71 310.13 L100.48 309.62 L101.26 309.11 L102.04 308.62 L102.81 308.13 L103.59 307.66 L104.36 307.19 L105.14 306.74 L105.92 306.29 L106.69 305.85 L107.47 305.42 L108.24 304.99 L109.02 304.57 L109.80 304.16 L110.57 303.76 L111.35 303.36 L112.12 302.97 L112.90 302.58 L113.68 302.20 L114.45 301.82 L115.23 301.45 L116.00 301.08 L116.78 300.71 L117.56 300.35 L118.33 299.99 L119.11 299.63 L119.88 299.28 L120.66 298.93 L121.44 298.58 L122.21 298.23 L122.99 297.88 L123.76 297.53 L124.54 297.18 L125.32 296.83 L126.09 296.48 L126.87 296.13 L127.64 295.78 L128.42 295.42 L129.20 295.07 L129.97 294.71 L130.75 294.35 L131.52 293.98 L132.30 293.61 L133.08 293.24 L133.85 292.86 L134.63 292.48 L135.40 292.09 L136.18 291.70 L136.96 291.30 L137.73 290.89 L138.51 290.48 L139.28 290.06 L140.06 289.63 L140.84 289.19 L141.61 288.75 L142.39 288.30 L143.16 287.84 L143.94 287.37 L144.72 286.88 L145.49 286.39 L146.27 285.89 L147.04 285.38 L147.82 284.86 L148.60 284.32 L149.37 283.77 L150.15 283.22 L150.92 282.64 L151.70 282.06 L152.48 281.46 L153.25 280.85 L154.03 280.22 L154.80 279.58 L155.58 278.93 L156.36 278.26 L157.13 277.57 L157.91 276.87 L158.68 276.15 L159.46 275.42 L160.24 274.67 L161.01 273.90 L161.79 273.12 L162.56 272.32 L163.34 271.50 L164.12 270.66 L164.89 269.80 L165.67 268.93 L166.44 268.03 L167.22 267.12 L168.00 266.19 L168.77 265.23 L169.55 264.26 L170.32 263.27 L171.10 262.25 L171.88 261.22 L172.65 260.16 L173.43 259.09 L174.20 257.99 L174.98 256.86 L175.76 255.72 L176.53 254.55 L177.31 253.37 L178.08 252.15 L178.86 250.92 L179.64 249.66 L180.41 248.38 L181.19 247.07 L181.96 245.74 L182.74 244.38 L183.52 243.00 L184.29 241.59 L185.07 240.16 L185.84 238.70 L186.62 237.22 L187.40 235.71 L188.17 234.17 L188.95 232.61 L189.72 231.01 L190.50 229.40 L191.28 227.75 L192.05 226.08 L192.83 224.37 L193.60 222.64" stroke="#ffc800" stroke-dashoffset="16.41"/>
<path d="M106.69 307.66 L107.47 307.32 L108.24 306.99 L109.02 306.68 L109.80 306.38 L110.57 306.08 L111.35 305.80 L112.12 305.53 L112.90 305.27 L113.68 305.01 L114.45 304.77 L115.23 304.53 L116.00 304.31 L116.78 304.09 L117.56 303.88 L118.33 303.68 L119.11 303.49 L119.88 303.31 L120.66 303.13 L121.44 302.96 L122.21 302.80 L122.99 302.64 L123.76 302.50 L124.54 302.35 L125.32 302.22 L126.09 302.09 L126.87 301.96 L127.64 301.84 L128.42 301.73 L129.20 301.62 L129.97 301.52 L130.75 301.42 L131.52 301.32 L132.30 301.23 L133.08 301.14 L133.85 301.06 L134.63 300.98 L135.40 300.90 L136.18 300.83 L136.96 300.75 L137.73 300.68 L138.51 300.62 L139.28 300.55 L140.06 300.48 L140.84 300.42 L141.61 300.36 L142.39 300.30 L143.16 300.24 L143.94 300.18 L144.72 300.11 L145.49 300.05 L146.27 299.99 L147.04 299.93 L147.82 299.87 L148.60 299.80 L149.37 299.74 L150.15 299.67 L150.92 299.60 L151.70 299.53 L152.48 299.46 L153.25 299.38 L154.03 299.30 L154.80 299.22 L155.58 299.13 L156.36 299.05 L157.13 298.95 L157.91 298.85 L158.68 298.75 L159.46 298.65 L160.24 298.53 L161.01 298.42 L161.79 298.29 L162.56 298.17 L163.34 298.03 L164.12 297.89 L164.89 297.75 L165.67 297.59 L166.44 297.43 L167.22 297.26 L168.00 297.09 L168.77 296.91 L169.55 296.72 L170.32 296.52 L171.10 296.31 L171.88 296.10 L172.65 295.87 L173.43 295.64 L174.20 295.39 L174.98 295.14 L175.76 294.88 L176.53 294.61 L177.31 294.32 L178.08 294.03 L178.86 293.73 L179.64 293.41 L180.41 293.08 L181.19 292.74 L181.96 292.39 L182.74 292.03 L183.52 291.66 L184.29 291.27 L185.07 290.87 L185.84 290.46 L186.62 290.03 L187.40 289.59 L188.17 289.14 L188.95 288.67 L189.72 288.19 L190.50 287.70 L191.28 287.19 L192.05 286.66 L192.83 286.12 L193.60 285.56 L194.38 284.99 L195.16 284.41 L195.93 283.80 L196.71 283.18 L197.48 282.55 L198.26 281.89 L199.04 281.23 L199.81 280.54 L200.59 279.83 L201.36 279.11 L202.14 278.37 L202.91 277.61 L203.69 276.84 L204.47 276.04 L205.24 275.23 L206.02 274.39 L206.79 273.54 L207.57 272.67 L208.35 271.77 L209.12 270.86 L209.90 269.93 L210.67 268.97 L211.45 268.00 L212.23 267.00 L213.00 265.99 L213.78 264.95 L214.55 263.88 L215.33 262.80 L216.11 261.69 L216.88 260.58 L217.66 259.45 L218.43 258.33 L219.21 257.20 L219.99 256.06 L220.76 254.92 L221.54 253.78 L222.31 252.64 L223.09 251.49 L223.87 250.33 L224.64 249.17 L225.42 248.01 L226.19 246.84 L226.97 245.67 L227.75 244.50 L228.52 243.32 L229.30 242.13 L230.07 240.95 L230.85 239.75 L231.63 238.56 L232.40 237.36 L233.18 236.15 L233.95 234.95 L234.73 233.74 L235.51 232.52 L236.28 231.30 L237.06 230.08 L237.83 228.85 L238.61 227.61 L239.39 226.38 L240.16 225.14 L240.94 223.89" stroke="#0000ff" stroke-dashoffset="2.33"/>
<path d="M130.75 303.26 L131.52 303.24 L132.30 303.22 L133.08 303.21 L133.85 303.21 L134.63 303.21 L135.40 303.22 L136.18 303.23 L136.96 303.25 L137.73 303.28 L138.51 303.30 L139.28 303.34 L140.06 303.38 L140.84 303.42 L141.61 303.46 L142.39 303.51 L143.16 303.57 L143.94 303.63 L144.72 303.69 L145.49 303.75 L146.27 303.82 L147.04 303.89 L147.82 303.96 L148.60 304.04 L149.37 304.12 L150.15 304.20 L150.92 304.28 L151.70 304.36 L152.48 304.45 L153.25 304.54 L154.03 304.63 L154.80 304.72 L155.58 304.81 L156.36 304.90 L157.13 304.99 L157.91 305.09 L158.68 305.18 L159.46 305.28 L160.24 305.37 L161.01 305.47 L161.79 305.56 L162.56 305.65 L163.34 305.75 L164.12 305.84 L164.89 305.93 L165.67 306.02 L166.44 306.11 L167.22 306.20 L168.00 306.29 L168.77 306.37 L169.55 306.45 L170.32 306.54 L171.10 306.61 L171.88 306.69 L172.65 306.77 L173.43 306.84 L174.20 306.91 L174.98 306.97 L175.76 307.04 L176.53 307.10 L177.31 307.15 L178.08 307.21 L178.86 307.26 L179.64 307.30 L180.41 307.35 L181.19 307.38 L181.96 307.42 L182.74 307.45 L183.52 307.47 L184.29 307.49 L185.07 307.51 L185.84 307.52 L186.62 307.52 L187.40 307.52 L188.17 307.52 L188.95 307.51 L189.72 307.49 L190.50 307.47 L191.28 307.44 L192.05 307.41 L192.83 307.37 L193.60 307.32 L194.38 307.27 L195.16 307.20 L195.93 307.14 L196.71 307.06 L197.48 306.98 L198.26 306.89 L199.04 306.79 L199.81 306.69 L200.59 306.58 L201.36 306.46 L202.14 306.33 L202.91 306.19 L203.69 306.04 L204.47 305.89 L205.24 305.73 L206.02 305.55 L206.79 305.37 L207.57 305.18 L208.35 304.98 L209.12 304.77 L209.90 304.55 L210.67 304.32 L211.45 304.08 L212.23 303.83 L213.00 303.57 L213.78 303.30 L214.55 303.01 L215.33 302.72 L216.11 302.41 L216.88 302.10 L217.66 301.77 L218.43 301.43 L219.21 301.08 L219.99 300.71 L220.76 300.33 L221.54 299.94 L222.31 299.54 L223.09 299.13 L223.87 298.70 L224.64 298.26 L225.42 297.80 L226.19 297.33 L226.97 296.85 L227.75 296.35 L228.52 295.84 L229.30 295.31 L230.07 294.77 L230.85 294.21 L231.63 293.64 L232.40 293.05 L233.18 292.45 L233.95 291.83 L234.73 291.20 L235.51 290.54 L236.28 289.88 L237.06 289.19 L237.83 288.49 L238.61 287.77 L239.39 287.03 L240.16 286.29 L240.94 285.55 L241.71 284.80 L242.49 284.05 L243.27 283.30 L244.04 282.55 L244.82 281.80 L245.59 281.04 L246.37 280.28 L247.15 279.52 L247.92 278.76 L248.70 278.00 L249.47 277.23 L250.25 276.46 L251.03 275.69 L251.80 274.92 L252.58 274.14 L253.35 273.37 L254.13 272.59 L254.91 271.81 L255.68 271.02 L256.46 270.24 L257.23 269.45 L258.01 268.66 L258.79 267.87 L259.56 267.08 L260.34 266.29 L261.11 265.49 L261.89 264.69 L262.67 263.89 L263.44 263.09 L264.22 262.28 L264.99 261.47 L265.77 260.66 L266.55 259.85 L267.32 259.04 L268.10 258.22 L268.87 257.41 L269.65 256.59 L270.43 255.77 L271.20 254.94 L271.98 254.12 L272.75 253.29 L273.53 252.46 L274.31 251.63 L275.08 250.79 L275.86 249.96 L276.63 249.12 L277.41 248.28 L278.19 247.44 L278.96 246.59 L279.74 245.75 L280.51 244.90 L281.29 244.05 L282.07 243.20 L282.84 242.34 L283.62 241.49 L284.39 240.63 L285.17 239.77 L285.95 238.91 L286.72 238.04 L287.50 237.18 L288.27 236.31 L289.05 235.44 L289.83 234.57 L290.60 233.69 L291.38 232.81 L292.15 231.94 L292.93 231.06 L293.71 230.17 L294.48 229.29 L295.26 228.40 L296.03 227.51 L296.81 226.62 L297.59 225.73 L298.36 224.83 L299.14 223.94" stroke="#00f000" stroke-dashoffset="9.74"/>
<path d="M171.88 309.87 L172.65 310.04 L173.43 310.21 L174.20 310.38 L174.98 310.55 L175.76 310.72 L176.53 310.89 L177.31 311.05 L178.08 311.22 L178.86 311.39 L179.64 311.56 L180.41 311.72 L181.19 311.89 L181.96 312.05 L182.74 312.21 L183.52 312.37 L184.29 312.53 L185.07 312.69 L185.84 312.85 L186.62 313.00 L187.40 313.16 L188.17 313.31 L188.95 313.46 L189.72 313.61 L190.50 313.76 L191.28 313.90 L192.05 314.04 L192.83 314.18 L193.60 314.32 L194.38 314.46 L195.16 314.59 L195.93 314.72 L196.71 314.85 L197.48 314.98 L198.26 315.10 L199.04 315.22 L199.81 315.34 L200.59 315.45 L201.36 315.57 L202.14 315.68 L202.91 315.78 L203.69 315.88 L204.47 315.98 L205.24 316.08 L206.02 316.17 L206.79 316.26 L207.57 316.35 L208.35 316.43 L209.12 316.51 L209.90 316.59 L210.67 316.66 L211.45 316.73 L212.23 316.80 L213.00 316.86 L213.78 316.91 L214.55 316.97 L215.33 317.02 L216.11 317.06 L216.88 317.10 L217.66 317.14 L218.43 317.17 L219.21 317.20 L219.99 317.22 L220.76 317.24 L221.54 317.25 L222.31 317.26 L223.09 317.27 L223.87 317.26 L224.64 317.26 L225.42 317.25 L226.19 317.23 L226.97 317.21 L227.75 317.19 L228.52 317.16 L229.30 317.12 L230.07 317.08 L230.85 317.03 L231.63 316.98 L232.40 316.92 L233.18 316.86 L233.95 316.79 L234.73 316.71 L235.51 316.63 L236.28 316.54 L237.06 316.45 L237.83 316.35 L238.61 316.24 L239.39 316.13 L240.16 316.01 L240.94 315.88 L241.71 315.75 L242.49 315.61 L243.27 315.46 L244.04 315.31 L244.82 315.15 L245.59 314.98 L246.37 314.81 L247.15 314.62 L247.92 314.43 L248.70 314.24 L249.47 314.03 L250.25 313.82 L251.03 313.59 L251.80 313.37 L252.58 313.13 L253.35 312.88 L254.13 312.63 L254.91 312.36 L255.68 312.09 L256.46 311.81 L257.23 311.52 L258.01 311.22 L258.79 310.91 L259.56 310.60 L260.34 310.27 L261.11 309.93 L261.89 309.59 L262.67 309.23 L263.44 308.86 L264.22 308.49 L264.99 308.10 L265.77 307.70 L266.55 307.29 L267.32 306.87 L268.10 306.44 L268.87 306.00 L269.65 305.54 L270.43 305.08 L271.20 304.60 L271.98 304.13 L272.75 303.65 L273.53 303.17 L274.31 302.69 L275.08 302.22 L275.86 301.74 L276.63 301.25 L277.41 300.77 L278.19 300.29 L278.96 299.81 L279.74 299.32 L280.51 298.84 L281.29 298.35 L282.07 297.86 L282.84 297.38 L283.62 296.89 L284.39 296.40 L285.17 295.91 L285.95 295.42 L286.72 294.93 L287.50 294.43 L288.27 293.94 L289.05 293.45 L289.83 292.95 L290.60 292.45 L291.38 291.96 L292.15 291.46 L292.93 290.96 L293.71 290.46 L294.48 289.96 L295.26 289.46 L296.03 288.96 L296.81 288.46 L297.59 287.96 L298.36 287.45 L299.14 286.95 L299.91 286.44 L300.69 285.94 L301.47 285.43 L302.24 284.92 L303.02 284.41 L303.79 283.90 L304.57 283.39 L305.35 282.88 L306.12 282.37 L306.90 281.85 L307.67 281.34 L308.45 280.83 L309.23 280.31 L310.00 279.79 L310.78 279.28 L311.55 278.76 L312.33 278.24 L313.11 277.72 L313.88 277.20 L314.66 276.68 L315.43 276.16 L316.21 275.64 L316.99 275.11 L317.76 274.59 L318.54 274.06 L319.31 273.54 L320.09 273.01 L320.87 272.48 L321.64 271.95 L322.42 271.42 L323.19 270.89 L323.97 270.36 L324.75 269.83 L325.52 269.30 L326.30 268.77 L327.07 268.23 L327.85 267.70 L328.62 267.16" stroke="#996633" stroke-dashoffset="0.27"/>
<path d="M50.20 409.20 L50.20 407.00 L50.39 405.92 L50.59 404.85 L50.78 403.80 L50.98 402.76 L51.17 401.74 L51.37 400.72 L51.56 399.73 L51.76 398.74 L51.95 397.77 L52.14 396.81 L52.34 395.86 L52.53 394.93 L52.73 394.00 L52.92 393.09 L53.12 392.19 L53.31 391.30 L53.50 390.42 L53.70 389.56 L53.89 388.70 L54.09 387.86 L54.28 387.02 L54.48 386.20 L54.67 385.39 L54.86 384.58 L55.06 383.79 L55.25 383.01 L55.45 382.23 L55.64 381.47 L55.84 380.71 L56.03 379.96 L56.22 379.23 L56.42 378.50 L56.61 377.78 L56.81 377.07 L57.00 376.36 L57.20 375.67 L57.39 374.98 L57.58 374.30 L57.78 373.63 L57.97 372.97 L58.17 372.32 L58.36 371.67 L58.56 371.03 L58.75 370.40 L58.95 369.77 L59.14 369.15 L59.33 368.54 L59.53 367.93 L59.72 367.34 L59.92 366.75 L60.11 366.16 L60.31 365.58 L60.50 365.01 L60.69 364.45 L60.89 363.89 L61.08 363.33 L61.28 362.78 L61.47 362.24 L61.67 361.71 L61.86 361.18 L62.05 360.65 L62.25 360.13 L62.44 359.62 L62.64 359.11 L62.83 358.61 L63.03 358.11 L63.22 357.62 L63.41 357.13 L63.61 356.65 L63.80 356.17 L64.00 355.70 L64.19 355.23 L64.39 354.77 L64.58 354.31 L64.77 353.85 L64.97 353.40 L65.16 352.96 L65.36 352.52 L65.55 352.08 L65.75 351.65 L65.94 351.22 L66.14 350.80 L66.33 350.38 L66.52 349.96 L66.72 349.55 L66.91 349.14 L67.11 348.74 L67.30 348.33 L67.50 347.94 L67.69 347.54 L67.88 347.15 L68.08 346.77 L68.27 346.39 L68.47 346.01 L68.66 345.63 L68.86 345.26 L69.05 344.89 L69.24 344.52 L69.44 344.16 L69.63 343.80 L69.83 343.44 L70.02 343.09 L70.22 342.74 L70.41 342.39 L70.60 342.05 L70.80 341.71 L70.99 341.37 L71.19 341.04 L71.38 340.70 L71.58 340.37 L71.77 340.05 L71.96 339.72 L72.16 339.40 L72.35 339.08 L72.55 338.77 L72.74 338.45 L72.94 338.14 L73.13 337.83 L73.33 337.53 L74.10 336.33 L74.88 335.17 L75.65 334.05 L76.43 332.96 L77.20 331.90 L77.98 330.88 L78.76 329.88 L79.53 328.92 L80.31 327.98 L81.08 327.07 L81.86 326.18 L82.64 325.33 L83.41 324.49 L84.19 323.68 L84.96 322.89 L85.74 322.13 L86.52 321.39 L87.29 320.66 L88.07 319.96 L88.84 319.28 L89.62 318.62 L90.40 317.97 L91.17 317.35 L91.95 316.74 L92.72 316.16 L93.50 315.58 L94.28 315.03 L95.05 314.49 L95.83 313.97 L96.60 313.47 L97.38 312.98 L98.16 312.51 L98.93 312.05 L99.71 311.61 L100.48 311.18 L101.26 310.77 L102.04 310.37 L102.81 309.99 L103.59 309.61 L104.36 309.26 L105.14 308.91 L105.92 308.58 L106.69 308.27 L107.47 307.96 L108.24 307.67 L109.02 307.39 L109.80 307.13 L110.57 306.87 L111.35 306.63 L112.12 306.40 L112.90 306.18 L113.68 305.97 L114.45 305.77 L115.23 305.58 L116.00 305.41 L116.78 305.24 L117.56 305.09 L118.33 304.94 L119.11 304.81 L119.88 304.68 L120.66 304.57 L121.44 304.46 L122.21 304.37 L122.99 304.28 L123.76 304.20 L124.54 304.13 L125.32 304.07 L126.09 304.02 L126.87 303.98 L127.64 303.94 L128.42 303.92 L129.20 303.90 L129.97 303.89 L130.75 303.88 L131.52 303.88 L132.30 303.89 L133.08 303.91 L133.85 303.94 L134.63 303.97 L135.40 304.00 L136.18 304.05 L136.96 304.10 L137.73 304.15 L138.51 304.21 L139.28 304.28 L140.06 304.36 L140.84 304.43 L141.61 304.52 L142.39 304.61 L143.16 304.70 L143.94 304.80 L144.72 304.90 L145.49 305.01 L146.27 305.12 L147.04 305.24 L147.82 305.36 L148.60 305.49 L149.37 305.62 L150.15 305.75 L150.92 305.88 L151.70 306.02 L152.48 306.17 L153.25 306.31 L154.03 306.46 L154.80 306.61 L155.58 306.77 L156.36 306.93 L157.13 307.09 L157.91 307.25 L158.68 307.41 L159.46 307.58 L160.24 307.75 L161.01 307.92 L161.79 308.10 L162.56 308.27 L163.34 308.45 L164.12 308.63 L164.89 308.81 L165.67 308.99 L166.44 309.17 L167.22 309.35 L168.00 309.54 L168.77 309.72 L169.55 309.91 L170.32 310.10 L171.10 310.29 L171.88 310.48 L172.65 310.66 L173.43 310.85 L174.20 311.04 L174.98 311.24 L175.76 311.43 L176.53 311.62 L177.31 311.81 L178.08 312.00 L178.86 312.19 L179.64 312.38 L180.41 312.57 L181.19 312.76 L181.96 312.95 L182.74 313.14 L183.52 313.33 L184.29 313.51 L185.07 313.70 L185.84 313.89 L186.62 314.07 L187.40 314.26 L188.17 314.44 L188.95 314.63 L189.72 314.81 L190.50 314.99 L191.28 315.17 L192.05 315.35 L192.83 315.53 L193.60 315.70 L194.38 315.88 L195.16 316.05 L195.93 316.22 L196.71 316.39 L197.48 316.56 L198.26 316.73 L199.04 316.90 L199.81 317.06 L200.59 317.23 L201.36 317.39 L202.14 317.55 L202.91 317.71 L203.69 317.86 L204.47 318.02 L205.24 318.17 L206.02 318.32 L206.79 318.47 L207.57 318.62 L208.35 318.76 L209.12 318.90 L209.90 319.05 L210.67 319.18 L211.45 319.32 L212.23 319.46 L213.00 319.59 L213.78 319.72 L214.55 319.85 L215.33 319.97 L216.11 320.10 L216.88 320.22 L217.66 320.34 L218.43 320.46 L219.21 320.57 L219.99 320.69 L220.76 320.80 L221.54 320.90 L222.31 321.01 L223.09 321.11 L223.87 321.22 L224.64 321.31 L225.42 321.41 L226.19 321.51 L226.97 321.60 L227.75 321.69 L228.52 321.77 L229.30 321.86 L230.07 321.94 L230.85 322.02 L231.63 322.10 L232.40 322.17 L233.18 322.24 L233.95 322.31 L234.73 322.38 L235.51 322.45 L236.28 322.51 L237.06 322.57 L237.83 322.63 L238.61 322.68 L239.39 322.73 L240.16 322.78 L240.94 322.83 L241.71 322.88 L242.49 322.92 L243.27 322.96 L244.04 323.00 L244.82 323.03 L245.59 323.06 L246.37 323.09 L247.15 323.12 L247.92 323.15 L248.70 323.17 L249.47 323.19 L250.25 323.21 L251.03 323.22 L251.80 323.23 L252.58 323.24 L253.35 323.25 L254.13 323.26 L254.91 323.26 L255.68 323.26 L256.46 323.26 L257.23 323.25 L258.01 323.25 L258.79 323.24 L259.56 323.22 L260.34 323.21 L261.11 323.19 L261.89 323.17 L262.67 323.15 L263.44 323.13 L264.22 323.10 L264.99 323.07 L265.77 323.04 L266.55 323.01 L267.32 322.97 L268.10 322.93 L268.87 322.89 L269.65 322.85 L270.43 322.81 L271.20 322.76 L271.98 322.71 L272.75 322.66 L273.53 322.60 L274.31 322.54 L275.08 322.48 L275.86 322.42 L276.63 322.36 L277.41 322.29 L278.19 322.23 L278.96 322.16 L279.74 322.08 L280.51 322.01 L281.29 321.93 L282.07 321.85 L282.84 321.77 L283.62 321.69 L284.39 321.60 L285.17 321.51 L285.95 321.42 L286.72 321.33 L287.50 321.23 L288.27 321.14 L289.05 321.04 L289.83 320.94 L290.60 320.84 L291.38 320.73 L292.15 320.62 L292.93 320.51 L293.71 320.40 L294.48 320.29 L295.26 320.17 L296.03 320.06 L296.81 319.94 L297.59 319.81 L298.36 319.69 L299.14 319.56 L299.91 319.44 L300.69 319.31 L301.47 319.17 L302.24 319.04 L303.02 318.90 L303.79 318.77 L304.57 318.63 L305.35 318.48 L306.12 318.34 L306.90 318.19 L307.67 318.05 L308.45 317.90 L309.23 317.74 L310.00 317.59 L310.78 317.44 L311.55 317.28 L312.33 317.12 L313.11 316.96 L313.88 316.79 L314.66 316.63 L315.43 316.46 L316.21 316.29 L316.99 316.12 L317.76 315.94 L318.54 315.77 L319.31 315.59 L320.09 315.41 L320.87 315.23 L321.64 315.05 L322.42 314.86 L323.19 314.67 L323.97 314.48 L324.75 314.29 L325.52 314.10 L326.30 313.90 L327.07 313.71 L327.85 313.51 L328.62 313.30" stroke="#ff0000" stroke-dashoffset="0.00"/>
</g>
<text transform="translate(50.30 424.50) scale(0.94 1)" text-anchor="middle" font-size="18.5" stroke-width="0.2" stroke="#000">0</text>
<text transform="translate(96.55 424.50) scale(0.94 1)" text-anchor="middle" font-size="18.5" stroke-width="0.2" stroke="#000">1</text>
<text transform="translate(142.80 424.50) scale(0.94 1)" text-anchor="middle" font-size="18.5" stroke-width="0.2" stroke="#000">2</text>
<text transform="translate(189.05 424.50) scale(0.94 1)" text-anchor="middle" font-size="18.5" stroke-width="0.2" stroke="#000">3</text>
<text transform="translate(235.30 424.50) scale(0.94 1)" text-anchor="middle" font-size="18.5" stroke-width="0.2" stroke="#000">4</text>
<text transform="translate(281.55 424.50) scale(0.94 1)" text-anchor="middle" font-size="18.5" stroke-width="0.2" stroke="#000">5</text>
<text transform="translate(327.80 424.50) scale(0.94 1)" text-anchor="middle" font-size="18.5" stroke-width="0.2" stroke="#000">6</text>
<text transform="translate(43.60 412.70) scale(0.94 1)" text-anchor="end" font-size="18.5" stroke-width="0.2" stroke="#000">0</text>
<text transform="translate(43.60 383.70) scale(0.94 1)" text-anchor="end" font-size="18.5" stroke-width="0.2" stroke="#000">2</text>
<text transform="translate(43.60 354.70) scale(0.94 1)" text-anchor="end" font-size="18.5" stroke-width="0.2" stroke="#000">4</text>
<text transform="translate(43.60 325.70) scale(0.94 1)" text-anchor="end" font-size="18.5" stroke-width="0.2" stroke="#000">6</text>
<text transform="translate(43.60 296.70) scale(0.94 1)" text-anchor="end" font-size="18.5" stroke-width="0.2" stroke="#000">8</text>
<text transform="translate(43.60 267.70) scale(0.94 1)" text-anchor="end" font-size="18.5" stroke-width="0.2" stroke="#000">10</text>
<text transform="translate(43.60 238.70) scale(0.94 1)" text-anchor="end" font-size="18.5" stroke-width="0.2" stroke="#000">12</text>
<text transform="translate(0.60 257.10) scale(0.94 1)" text-anchor="start" font-size="18.5" stroke-width="0.2" stroke="#000">(b)</text>
<text transform="translate(186.60 439.60) scale(1.0 1)" text-anchor="middle" font-size="18.5" stroke-width="0.2" stroke="#000">|<tspan font-style="italic">q</tspan>|<tspan font-style="italic">d</tspan></text>
<g transform="translate(17.2 347.50) rotate(-90)" font-size="21" stroke="#000" stroke-width="0.2"><text x="-1.5" y="-3.2" font-size="21" font-style="italic" transform="skewX(-10)">ω</text><text x="10.7" y="2.7" font-size="11.5" font-style="italic">p</text><text x="17.2" y="0" font-style="italic">d</text><text x="34.4" y="0" font-style="italic">v</text><text x="43.4" y="3.0" font-size="10" font-style="italic">F</text><path d="M28.2 1.8 L35.1 -16.7" stroke="#000" stroke-width="1.35" fill="none"/></g>
<text transform="translate(142.10 384.50) scale(1.0 1)" text-anchor="middle" font-size="23" stroke-width="0" stroke="#000">α = 100</text>
<clipPath id="c2"><rect x="45.2" y="458.9" width="283.5" height="174.69999999999996"/></clipPath>
<rect x="45.5" y="459.2" width="282.9" height="174.09999999999997" fill="none" stroke="#808080" stroke-width="0.9"/>
<path d="M50.20 633.3 v-2.9 M50.20 459.2 v2.9 M59.45 633.3 v-2.0 M59.45 459.2 v2.0 M68.70 633.3 v-2.0 M68.70 459.2 v2.0 M77.95 633.3 v-2.0 M77.95 459.2 v2.0 M87.20 633.3 v-2.0 M87.20 459.2 v2.0 M96.45 633.3 v-2.9 M96.45 459.2 v2.9 M105.70 633.3 v-2.0 M105.70 459.2 v2.0 M114.95 633.3 v-2.0 M114.95 459.2 v2.0 M124.20 633.3 v-2.0 M124.20 459.2 v2.0 M133.45 633.3 v-2.0 M133.45 459.2 v2.0 M142.70 633.3 v-2.9 M142.70 459.2 v2.9 M151.95 633.3 v-2.0 M151.95 459.2 v2.0 M161.20 633.3 v-2.0 M161.20 459.2 v2.0 M170.45 633.3 v-2.0 M170.45 459.2 v2.0 M179.70 633.3 v-2.0 M179.70 459.2 v2.0 M188.95 633.3 v-2.9 M188.95 459.2 v2.9 M198.20 633.3 v-2.0 M198.20 459.2 v2.0 M207.45 633.3 v-2.0 M207.45 459.2 v2.0 M216.70 633.3 v-2.0 M216.70 459.2 v2.0 M225.95 633.3 v-2.0 M225.95 459.2 v2.0 M235.20 633.3 v-2.9 M235.20 459.2 v2.9 M244.45 633.3 v-2.0 M244.45 459.2 v2.0 M253.70 633.3 v-2.0 M253.70 459.2 v2.0 M262.95 633.3 v-2.0 M262.95 459.2 v2.0 M272.20 633.3 v-2.0 M272.20 459.2 v2.0 M281.45 633.3 v-2.9 M281.45 459.2 v2.9 M290.70 633.3 v-2.0 M290.70 459.2 v2.0 M299.95 633.3 v-2.0 M299.95 459.2 v2.0 M309.20 633.3 v-2.0 M309.20 459.2 v2.0 M318.45 633.3 v-2.0 M318.45 459.2 v2.0 M327.70 633.3 v-2.9 M327.70 459.2 v2.9 M45.5 633.30 h2.9 M328.4 633.30 h-2.9 M45.5 626.05 h2.0 M328.4 626.05 h-2.0 M45.5 618.80 h2.0 M328.4 618.80 h-2.0 M45.5 611.55 h2.0 M328.4 611.55 h-2.0 M45.5 604.30 h2.9 M328.4 604.30 h-2.9 M45.5 597.05 h2.0 M328.4 597.05 h-2.0 M45.5 589.80 h2.0 M328.4 589.80 h-2.0 M45.5 582.55 h2.0 M328.4 582.55 h-2.0 M45.5 575.30 h2.9 M328.4 575.30 h-2.9 M45.5 568.05 h2.0 M328.4 568.05 h-2.0 M45.5 560.80 h2.0 M328.4 560.80 h-2.0 M45.5 553.55 h2.0 M328.4 553.55 h-2.0 M45.5 546.30 h2.9 M328.4 546.30 h-2.9 M45.5 539.05 h2.0 M328.4 539.05 h-2.0 M45.5 531.80 h2.0 M328.4 531.80 h-2.0 M45.5 524.55 h2.0 M328.4 524.55 h-2.0 M45.5 517.30 h2.9 M328.4 517.30 h-2.9 M45.5 510.05 h2.0 M328.4 510.05 h-2.0 M45.5 502.80 h2.0 M328.4 502.80 h-2.0 M45.5 495.55 h2.0 M328.4 495.55 h-2.0 M45.5 488.30 h2.9 M328.4 488.30 h-2.9 M45.5 481.05 h2.0 M328.4 481.05 h-2.0 M45.5 473.80 h2.0 M328.4 473.80 h-2.0 M45.5 466.55 h2.0 M328.4 466.55 h-2.0 M45.5 459.30 h2.9 M328.4 459.30 h-2.9" stroke="#858585" stroke-width="0.7" fill="none"/>
<g clip-path="url(#c2)" fill="none" stroke-width="2.9" stroke-dasharray="11.7 5.3">
<path d="M93.50 502.99 L94.28 502.16 L95.05 501.35 L95.83 500.56 L96.60 499.80 L97.38 499.05 L98.16 498.33 L98.93 497.62 L99.71 496.93 L100.48 496.27 L101.26 495.62 L102.04 494.99 L102.81 494.38 L103.59 493.78 L104.36 493.20 L105.14 492.64 L105.92 492.10 L106.69 491.57 L107.47 491.06 L108.24 490.56 L109.02 490.08 L109.80 489.61 L110.57 489.16 L111.35 488.72 L112.12 488.29 L112.90 487.88 L113.68 487.48 L114.45 487.10 L115.23 486.72 L116.00 486.36 L116.78 486.01 L117.56 485.67 L118.33 485.34 L119.11 485.02 L119.88 484.71 L120.66 484.41 L121.44 484.12 L122.21 483.84 L122.99 483.57 L123.76 483.30 L124.54 483.04 L125.32 482.79 L126.09 482.55 L126.87 482.31 L127.64 482.08 L128.42 481.86 L129.20 481.64 L129.97 481.42 L130.75 481.21 L131.52 481.00 L132.30 480.80 L133.08 480.60 L133.85 480.40 L134.63 480.21 L135.40 480.01 L136.18 479.82 L136.96 479.63 L137.73 479.44 L138.51 479.25 L139.28 479.05 L140.06 478.86 L140.84 478.67 L141.61 478.47 L142.39 478.28 L143.16 478.07 L143.94 477.87 L144.72 477.67 L145.49 477.45 L146.27 477.24 L147.04 477.02 L147.82 476.79 L148.60 476.56 L149.37 476.33 L150.15 476.08 L150.92 475.83 L151.70 475.58 L152.48 475.31 L153.25 475.04 L154.03 474.76 L154.80 474.46 L155.58 474.16 L156.36 473.85 L157.13 473.53 L157.91 473.20 L158.68 472.86 L159.46 472.50 L160.24 472.14 L161.01 471.76 L161.79 471.37 L162.56 470.97 L163.34 470.55 L164.12 470.12 L164.89 469.67 L165.67 469.21 L166.44 468.74 L167.22 468.25 L168.00 467.74 L168.77 467.22 L169.55 466.68 L170.32 466.13 L171.10 465.56 L171.88 464.97 L172.65 464.37 L173.43 463.74 L174.20 463.10 L174.98 462.44 L175.76 461.76 L176.53 461.07 L177.31 460.35 L178.08 459.61 L178.86 458.86 L179.64 458.08 L180.41 457.29 L181.19 456.47 L181.96 455.63 L182.74 454.77 L183.52 453.89 L184.29 452.99 L185.07 452.06 L185.84 451.12 L186.62 450.15" stroke="#ffc800" stroke-dashoffset="5.61"/>
<path d="M112.12 490.08 L112.90 489.76 L113.68 489.45 L114.45 489.16 L115.23 488.88 L116.00 488.62 L116.78 488.37 L117.56 488.14 L118.33 487.93 L119.11 487.72 L119.88 487.53 L120.66 487.36 L121.44 487.20 L122.21 487.05 L122.99 486.91 L123.76 486.79 L124.54 486.68 L125.32 486.58 L126.09 486.50 L126.87 486.42 L127.64 486.36 L128.42 486.31 L129.20 486.26 L129.97 486.23 L130.75 486.21 L131.52 486.20 L132.30 486.20 L133.08 486.20 L133.85 486.22 L134.63 486.24 L135.40 486.27 L136.18 486.31 L136.96 486.36 L137.73 486.42 L138.51 486.48 L139.28 486.55 L140.06 486.62 L140.84 486.70 L141.61 486.79 L142.39 486.88 L143.16 486.98 L143.94 487.08 L144.72 487.19 L145.49 487.30 L146.27 487.42 L147.04 487.54 L147.82 487.66 L148.60 487.78 L149.37 487.91 L150.15 488.04 L150.92 488.18 L151.70 488.31 L152.48 488.45 L153.25 488.59 L154.03 488.73 L154.80 488.87 L155.58 489.01 L156.36 489.15 L157.13 489.29 L157.91 489.43 L158.68 489.57 L159.46 489.71 L160.24 489.85 L161.01 489.98 L161.79 490.12 L162.56 490.25 L163.34 490.38 L164.12 490.50 L164.89 490.63 L165.67 490.75 L166.44 490.87 L167.22 490.98 L168.00 491.09 L168.77 491.19 L169.55 491.29 L170.32 491.39 L171.10 491.48 L171.88 491.57 L172.65 491.65 L173.43 491.72 L174.20 491.79 L174.98 491.85 L175.76 491.90 L176.53 491.95 L177.31 491.99 L178.08 492.03 L178.86 492.05 L179.64 492.07 L180.41 492.08 L181.19 492.08 L181.96 492.08 L182.74 492.06 L183.52 492.03 L184.29 492.00 L185.07 491.96 L185.84 491.90 L186.62 491.84 L187.40 491.77 L188.17 491.68 L188.95 491.59 L189.72 491.48 L190.50 491.37 L191.28 491.24 L192.05 491.10 L192.83 490.95 L193.60 490.78 L194.38 490.61 L195.16 490.42 L195.93 490.22 L196.71 490.00 L197.48 489.78 L198.26 489.54 L199.04 489.29 L199.81 489.02 L200.59 488.74 L201.36 488.44 L202.14 488.13 L202.91 487.81 L203.69 487.47 L204.47 487.12 L205.24 486.75 L206.02 486.36 L206.79 485.97 L207.57 485.55 L208.35 485.12 L209.12 484.67 L209.90 484.21 L210.67 483.73 L211.45 483.23 L212.23 482.72 L213.00 482.19 L213.78 481.64 L214.55 481.08 L215.33 480.50 L216.11 479.90 L216.88 479.28 L217.66 478.64 L218.43 477.99 L219.21 477.32 L219.99 476.62 L220.76 475.91 L221.54 475.18 L222.31 474.43 L223.09 473.67 L223.87 472.88 L224.64 472.07 L225.42 471.24 L226.19 470.39 L226.97 469.52 L227.75 468.63 L228.52 467.72 L229.30 466.79 L230.07 465.84 L230.85 464.87 L231.63 463.87 L232.40 462.85 L233.18 461.81 L233.95 460.75 L234.73 459.67 L235.51 458.56 L236.28 457.43 L237.06 456.28 L237.83 455.10 L238.61 453.90 L239.39 452.68 L240.16 451.44 L240.94 450.19" stroke="#0000ff" stroke-dashoffset="11.31"/>
<path d="M137.73 488.21 L138.51 488.34 L139.28 488.48 L140.06 488.63 L140.84 488.78 L141.61 488.94 L142.39 489.11 L143.16 489.29 L143.94 489.48 L144.72 489.67 L145.49 489.87 L146.27 490.07 L147.04 490.29 L147.82 490.50 L148.60 490.73 L149.37 490.96 L150.15 491.19 L150.92 491.43 L151.70 491.68 L152.48 491.93 L153.25 492.18 L154.03 492.44 L154.80 492.70 L155.58 492.97 L156.36 493.23 L157.13 493.51 L157.91 493.78 L158.68 494.06 L159.46 494.34 L160.24 494.63 L161.01 494.91 L161.79 495.20 L162.56 495.49 L163.34 495.78 L164.12 496.07 L164.89 496.37 L165.67 496.66 L166.44 496.96 L167.22 497.25 L168.00 497.55 L168.77 497.85 L169.55 498.14 L170.32 498.44 L171.10 498.74 L171.88 499.04 L172.65 499.33 L173.43 499.63 L174.20 499.92 L174.98 500.21 L175.76 500.50 L176.53 500.79 L177.31 501.08 L178.08 501.37 L178.86 501.65 L179.64 501.93 L180.41 502.21 L181.19 502.49 L181.96 502.77 L182.74 503.04 L183.52 503.31 L184.29 503.57 L185.07 503.84 L185.84 504.10 L186.62 504.35 L187.40 504.60 L188.17 504.85 L188.95 505.10 L189.72 505.34 L190.50 505.57 L191.28 505.80 L192.05 506.03 L192.83 506.25 L193.60 506.47 L194.38 506.68 L195.16 506.89 L195.93 507.09 L196.71 507.29 L197.48 507.48 L198.26 507.67 L199.04 507.85 L199.81 508.02 L200.59 508.19 L201.36 508.35 L202.14 508.51 L202.91 508.65 L203.69 508.80 L204.47 508.93 L205.24 509.06 L206.02 509.18 L206.79 509.30 L207.57 509.41 L208.35 509.51 L209.12 509.60 L209.90 509.68 L210.67 509.76 L211.45 509.83 L212.23 509.89 L213.00 509.95 L213.78 509.99 L214.55 510.03 L215.33 510.06 L216.11 510.08 L216.88 510.09 L217.66 510.09 L218.43 510.08 L219.21 510.07 L219.99 510.04 L220.76 510.01 L221.54 509.96 L222.31 509.91 L223.09 509.85 L223.87 509.77 L224.64 509.69 L225.42 509.60 L226.19 509.49 L226.97 509.38 L227.75 509.25 L228.52 509.11 L229.30 508.97 L230.07 508.81 L230.85 508.64 L231.63 508.46 L232.40 508.27 L233.18 508.06 L233.95 507.85 L234.73 507.62 L235.51 507.38 L236.28 507.13 L237.06 506.86 L237.83 506.59 L238.61 506.30 L239.39 505.99 L240.16 505.68 L240.94 505.35 L241.71 505.01 L242.49 504.65 L243.27 504.28 L244.04 503.90 L244.82 503.51 L245.59 503.10 L246.37 502.67 L247.15 502.23 L247.92 501.78 L248.70 501.31 L249.47 500.83 L250.25 500.33 L251.03 499.82 L251.80 499.29 L252.58 498.74 L253.35 498.18 L254.13 497.61 L254.91 497.01 L255.68 496.40 L256.46 495.78 L257.23 495.14 L258.01 494.48 L258.79 493.80 L259.56 493.11 L260.34 492.40 L261.11 491.67 L261.89 490.93 L262.67 490.16 L263.44 489.38 L264.22 488.58 L264.99 487.77 L265.77 486.96 L266.55 486.15 L267.32 485.34 L268.10 484.52 L268.87 483.71 L269.65 482.89 L270.43 482.07 L271.20 481.24 L271.98 480.42 L272.75 479.59 L273.53 478.76 L274.31 477.93 L275.08 477.09 L275.86 476.26 L276.63 475.42 L277.41 474.58 L278.19 473.74 L278.96 472.89 L279.74 472.05 L280.51 471.20 L281.29 470.35 L282.07 469.50 L282.84 468.64 L283.62 467.79 L284.39 466.93 L285.17 466.07 L285.95 465.21 L286.72 464.34 L287.50 463.48 L288.27 462.61 L289.05 461.74 L289.83 460.87 L290.60 459.99 L291.38 459.11 L292.15 458.24 L292.93 457.36 L293.71 456.47 L294.48 455.59 L295.26 454.70 L296.03 453.81 L296.81 452.92 L297.59 452.03 L298.36 451.13 L299.14 450.24" stroke="#00f000" stroke-dashoffset="3.08"/>
<path d="M181.96 505.92 L182.74 506.28 L183.52 506.64 L184.29 507.00 L185.07 507.36 L185.84 507.72 L186.62 508.08 L187.40 508.43 L188.17 508.79 L188.95 509.14 L189.72 509.49 L190.50 509.84 L191.28 510.19 L192.05 510.54 L192.83 510.88 L193.60 511.22 L194.38 511.56 L195.16 511.90 L195.93 512.24 L196.71 512.57 L197.48 512.90 L198.26 513.23 L199.04 513.56 L199.81 513.88 L200.59 514.20 L201.36 514.52 L202.14 514.84 L202.91 515.15 L203.69 515.46 L204.47 515.76 L205.24 516.07 L206.02 516.37 L206.79 516.67 L207.57 516.96 L208.35 517.25 L209.12 517.54 L209.90 517.82 L210.67 518.10 L211.45 518.38 L212.23 518.65 L213.00 518.92 L213.78 519.19 L214.55 519.45 L215.33 519.71 L216.11 519.96 L216.88 520.21 L217.66 520.46 L218.43 520.70 L219.21 520.94 L219.99 521.17 L220.76 521.40 L221.54 521.63 L222.31 521.85 L223.09 522.07 L223.87 522.28 L224.64 522.49 L225.42 522.69 L226.19 522.89 L226.97 523.09 L227.75 523.28 L228.52 523.46 L229.30 523.64 L230.07 523.82 L230.85 523.99 L231.63 524.16 L232.40 524.32 L233.18 524.48 L233.95 524.63 L234.73 524.78 L235.51 524.92 L236.28 525.06 L237.06 525.19 L237.83 525.31 L238.61 525.43 L239.39 525.55 L240.16 525.66 L240.94 525.77 L241.71 525.87 L242.49 525.96 L243.27 526.05 L244.04 526.13 L244.82 526.21 L245.59 526.28 L246.37 526.34 L247.15 526.40 L247.92 526.46 L248.70 526.51 L249.47 526.55 L250.25 526.58 L251.03 526.61 L251.80 526.64 L252.58 526.65 L253.35 526.67 L254.13 526.67 L254.91 526.67 L255.68 526.66 L256.46 526.65 L257.23 526.62 L258.01 526.60 L258.79 526.56 L259.56 526.52 L260.34 526.47 L261.11 526.41 L261.89 526.35 L262.67 526.28 L263.44 526.20 L264.22 526.12 L264.99 526.03 L265.77 525.93 L266.55 525.82 L267.32 525.71 L268.10 525.59 L268.87 525.46 L269.65 525.32 L270.43 525.17 L271.20 525.02 L271.98 524.86 L272.75 524.69 L273.53 524.51 L274.31 524.32 L275.08 524.13 L275.86 523.92 L276.63 523.71 L277.41 523.49 L278.19 523.26 L278.96 523.02 L279.74 522.77 L280.51 522.51 L281.29 522.24 L282.07 521.97 L282.84 521.68 L283.62 521.39 L284.39 521.08 L285.17 520.76 L285.95 520.44 L286.72 520.10 L287.50 519.76 L288.27 519.40 L289.05 519.03 L289.83 518.65 L290.60 518.26 L291.38 517.87 L292.15 517.45 L292.93 517.03 L293.71 516.60 L294.48 516.15 L295.26 515.70 L296.03 515.23 L296.81 514.75 L297.59 514.26 L298.36 513.75 L299.14 513.25 L299.91 512.74 L300.69 512.24 L301.47 511.73 L302.24 511.22 L303.02 510.71 L303.79 510.20 L304.57 509.69 L305.35 509.18 L306.12 508.67 L306.90 508.15 L307.67 507.64 L308.45 507.13 L309.23 506.61 L310.00 506.09 L310.78 505.58 L311.55 505.06 L312.33 504.54 L313.11 504.02 L313.88 503.50 L314.66 502.98 L315.43 502.46 L316.21 501.94 L316.99 501.41 L317.76 500.89 L318.54 500.36 L319.31 499.84 L320.09 499.31 L320.87 498.78 L321.64 498.25 L322.42 497.72 L323.19 497.19 L323.97 496.66 L324.75 496.13 L325.52 495.60 L326.30 495.07 L327.07 494.53 L327.85 494.00 L328.62 493.46" stroke="#996633" stroke-dashoffset="16.58"/>
<path d="M50.20 635.50 L50.20 633.30 L50.39 631.72 L50.59 630.16 L50.78 628.63 L50.98 627.12 L51.17 625.62 L51.37 624.15 L51.56 622.70 L51.76 621.27 L51.95 619.86 L52.14 618.47 L52.34 617.10 L52.53 615.75 L52.73 614.42 L52.92 613.10 L53.12 611.80 L53.31 610.52 L53.50 609.26 L53.70 608.01 L53.89 606.78 L54.09 605.57 L54.28 604.37 L54.48 603.19 L54.67 602.02 L54.86 600.87 L55.06 599.73 L55.25 598.61 L55.45 597.50 L55.64 596.41 L55.84 595.33 L56.03 594.27 L56.22 593.22 L56.42 592.18 L56.61 591.15 L56.81 590.14 L57.00 589.14 L57.20 588.15 L57.39 587.18 L57.58 586.21 L57.78 585.26 L57.97 584.32 L58.17 583.40 L58.36 582.48 L58.56 581.57 L58.75 580.68 L58.95 579.79 L59.14 578.92 L59.33 578.05 L59.53 577.20 L59.72 576.36 L59.92 575.52 L60.11 574.70 L60.31 573.88 L60.50 573.08 L60.69 572.28 L60.89 571.49 L61.08 570.71 L61.28 569.94 L61.47 569.18 L61.67 568.43 L61.86 567.68 L62.05 566.95 L62.25 566.22 L62.44 565.50 L62.64 564.78 L62.83 564.08 L63.03 563.38 L63.22 562.69 L63.41 562.01 L63.61 561.33 L63.80 560.66 L64.00 560.00 L64.19 559.34 L64.39 558.69 L64.58 558.05 L64.77 557.42 L64.97 556.79 L65.16 556.16 L65.36 555.55 L65.55 554.94 L65.75 554.33 L65.94 553.73 L66.14 553.14 L66.33 552.55 L66.52 551.97 L66.72 551.39 L66.91 550.82 L67.11 550.26 L67.30 549.70 L67.50 549.14 L67.69 548.59 L67.88 548.05 L68.08 547.51 L68.27 546.97 L68.47 546.44 L68.66 545.92 L68.86 545.40 L69.05 544.88 L69.24 544.37 L69.44 543.86 L69.63 543.36 L69.83 542.86 L70.02 542.37 L70.22 541.88 L70.41 541.40 L70.60 540.91 L70.80 540.44 L70.99 539.97 L71.19 539.50 L71.38 539.03 L71.58 538.57 L71.77 538.11 L71.96 537.66 L72.16 537.21 L72.35 536.76 L72.55 536.32 L72.74 535.88 L72.94 535.45 L73.13 535.02 L73.33 534.59 L74.10 532.91 L74.88 531.29 L75.65 529.71 L76.43 528.18 L77.20 526.70 L77.98 525.26 L78.76 523.86 L79.53 522.50 L80.31 521.18 L81.08 519.90 L81.86 518.65 L82.64 517.44 L83.41 516.26 L84.19 515.11 L84.96 514.00 L85.74 512.91 L86.52 511.86 L87.29 510.83 L88.07 509.84 L88.84 508.87 L89.62 507.93 L90.40 507.01 L91.17 506.13 L91.95 505.26 L92.72 504.43 L93.50 503.62 L94.28 502.83 L95.05 502.06 L95.83 501.32 L96.60 500.61 L97.38 499.91 L98.16 499.24 L98.93 498.59 L99.71 497.96 L100.48 497.36 L101.26 496.77 L102.04 496.21 L102.81 495.67 L103.59 495.15 L104.36 494.64 L105.14 494.16 L105.92 493.70 L106.69 493.26 L107.47 492.84 L108.24 492.43 L109.02 492.05 L109.80 491.68 L110.57 491.33 L111.35 491.00 L112.12 490.69 L112.90 490.39 L113.68 490.11 L114.45 489.85 L115.23 489.61 L116.00 489.38 L116.78 489.17 L117.56 488.98 L118.33 488.80 L119.11 488.64 L119.88 488.49 L120.66 488.36 L121.44 488.24 L122.21 488.14 L122.99 488.05 L123.76 487.97 L124.54 487.91 L125.32 487.87 L126.09 487.84 L126.87 487.82 L127.64 487.81 L128.42 487.82 L129.20 487.84 L129.97 487.87 L130.75 487.91 L131.52 487.97 L132.30 488.04 L133.08 488.12 L133.85 488.21 L134.63 488.31 L135.40 488.42 L136.18 488.54 L136.96 488.67 L137.73 488.82 L138.51 488.97 L139.28 489.13 L140.06 489.30 L140.84 489.48 L141.61 489.67 L142.39 489.86 L143.16 490.07 L143.94 490.28 L144.72 490.50 L145.49 490.73 L146.27 490.97 L147.04 491.21 L147.82 491.46 L148.60 491.72 L149.37 491.98 L150.15 492.26 L150.92 492.53 L151.70 492.81 L152.48 493.10 L153.25 493.40 L154.03 493.69 L154.80 494.00 L155.58 494.31 L156.36 494.62 L157.13 494.94 L157.91 495.26 L158.68 495.59 L159.46 495.92 L160.24 496.25 L161.01 496.59 L161.79 496.93 L162.56 497.28 L163.34 497.63 L164.12 497.98 L164.89 498.33 L165.67 498.69 L166.44 499.05 L167.22 499.41 L168.00 499.77 L168.77 500.14 L169.55 500.50 L170.32 500.87 L171.10 501.24 L171.88 501.61 L172.65 501.99 L173.43 502.36 L174.20 502.74 L174.98 503.11 L175.76 503.49 L176.53 503.87 L177.31 504.25 L178.08 504.63 L178.86 505.01 L179.64 505.39 L180.41 505.77 L181.19 506.15 L181.96 506.53 L182.74 506.90 L183.52 507.28 L184.29 507.66 L185.07 508.04 L185.84 508.42 L186.62 508.79 L187.40 509.17 L188.17 509.55 L188.95 509.92 L189.72 510.29 L190.50 510.67 L191.28 511.04 L192.05 511.41 L192.83 511.77 L193.60 512.14 L194.38 512.51 L195.16 512.87 L195.93 513.23 L196.71 513.59 L197.48 513.95 L198.26 514.31 L199.04 514.67 L199.81 515.02 L200.59 515.37 L201.36 515.72 L202.14 516.07 L202.91 516.41 L203.69 516.76 L204.47 517.10 L205.24 517.44 L206.02 517.77 L206.79 518.11 L207.57 518.44 L208.35 518.77 L209.12 519.10 L209.90 519.42 L210.67 519.74 L211.45 520.06 L212.23 520.38 L213.00 520.69 L213.78 521.00 L214.55 521.31 L215.33 521.62 L216.11 521.92 L216.88 522.22 L217.66 522.52 L218.43 522.82 L219.21 523.11 L219.99 523.40 L220.76 523.68 L221.54 523.97 L222.31 524.25 L223.09 524.53 L223.87 524.80 L224.64 525.07 L225.42 525.34 L226.19 525.61 L226.97 525.87 L227.75 526.13 L228.52 526.38 L229.30 526.64 L230.07 526.89 L230.85 527.14 L231.63 527.38 L232.40 527.62 L233.18 527.86 L233.95 528.09 L234.73 528.33 L235.51 528.56 L236.28 528.78 L237.06 529.00 L237.83 529.22 L238.61 529.44 L239.39 529.65 L240.16 529.86 L240.94 530.07 L241.71 530.27 L242.49 530.47 L243.27 530.67 L244.04 530.86 L244.82 531.05 L245.59 531.24 L246.37 531.42 L247.15 531.60 L247.92 531.78 L248.70 531.96 L249.47 532.13 L250.25 532.30 L251.03 532.46 L251.80 532.62 L252.58 532.78 L253.35 532.94 L254.13 533.09 L254.91 533.24 L255.68 533.39 L256.46 533.53 L257.23 533.67 L258.01 533.81 L258.79 533.94 L259.56 534.07 L260.34 534.20 L261.11 534.32 L261.89 534.44 L262.67 534.56 L263.44 534.68 L264.22 534.79 L264.99 534.90 L265.77 535.00 L266.55 535.11 L267.32 535.21 L268.10 535.30 L268.87 535.40 L269.65 535.49 L270.43 535.57 L271.20 535.66 L271.98 535.74 L272.75 535.82 L273.53 535.89 L274.31 535.97 L275.08 536.04 L275.86 536.10 L276.63 536.17 L277.41 536.23 L278.19 536.28 L278.96 536.34 L279.74 536.39 L280.51 536.44 L281.29 536.49 L282.07 536.53 L282.84 536.57 L283.62 536.61 L284.39 536.64 L285.17 536.68 L285.95 536.70 L286.72 536.73 L287.50 536.75 L288.27 536.78 L289.05 536.79 L289.83 536.81 L290.60 536.82 L291.38 536.83 L292.15 536.84 L292.93 536.84 L293.71 536.84 L294.48 536.84 L295.26 536.84 L296.03 536.83 L296.81 536.82 L297.59 536.81 L298.36 536.80 L299.14 536.78 L299.91 536.76 L300.69 536.74 L301.47 536.72 L302.24 536.69 L303.02 536.66 L303.79 536.63 L304.57 536.59 L305.35 536.55 L306.12 536.51 L306.90 536.47 L307.67 536.43 L308.45 536.38 L309.23 536.33 L310.00 536.28 L310.78 536.22 L311.55 536.17 L312.33 536.11 L313.11 536.05 L313.88 535.98 L314.66 535.92 L315.43 535.85 L316.21 535.78 L316.99 535.70 L317.76 535.63 L318.54 535.55 L319.31 535.47 L320.09 535.38 L320.87 535.30 L321.64 535.21 L322.42 535.12 L323.19 535.03 L323.97 534.94 L324.75 534.84 L325.52 534.74 L326.30 534.64 L327.07 534.54 L327.85 534.43 L328.62 534.32" stroke="#ff0000" stroke-dashoffset="0.00"/>
</g>
<text transform="translate(50.30 650.80) scale(0.94 1)" text-anchor="middle" font-size="18.5" stroke-width="0.2" stroke="#000">0</text>
<text transform="translate(96.55 650.80) scale(0.94 1)" text-anchor="middle" font-size="18.5" stroke-width="0.2" stroke="#000">1</text>
<text transform="translate(142.80 650.80) scale(0.94 1)" text-anchor="middle" font-size="18.5" stroke-width="0.2" stroke="#000">2</text>
<text transform="translate(189.05 650.80) scale(0.94 1)" text-anchor="middle" font-size="18.5" stroke-width="0.2" stroke="#000">3</text>
<text transform="translate(235.30 650.80) scale(0.94 1)" text-anchor="middle" font-size="18.5" stroke-width="0.2" stroke="#000">4</text>
<text transform="translate(281.55 650.80) scale(0.94 1)" text-anchor="middle" font-size="18.5" stroke-width="0.2" stroke="#000">5</text>
<text transform="translate(327.80 650.80) scale(0.94 1)" text-anchor="middle" font-size="18.5" stroke-width="0.2" stroke="#000">6</text>
<text transform="translate(43.60 639.00) scale(0.94 1)" text-anchor="end" font-size="18.5" stroke-width="0.2" stroke="#000">0</text>
<text transform="translate(43.60 610.00) scale(0.94 1)" text-anchor="end" font-size="18.5" stroke-width="0.2" stroke="#000">2</text>
<text transform="translate(43.60 581.00) scale(0.94 1)" text-anchor="end" font-size="18.5" stroke-width="0.2" stroke="#000">4</text>
<text transform="translate(43.60 552.00) scale(0.94 1)" text-anchor="end" font-size="18.5" stroke-width="0.2" stroke="#000">6</text>
<text transform="translate(43.60 523.00) scale(0.94 1)" text-anchor="end" font-size="18.5" stroke-width="0.2" stroke="#000">8</text>
<text transform="translate(43.60 494.00) scale(0.94 1)" text-anchor="end" font-size="18.5" stroke-width="0.2" stroke="#000">10</text>
<text transform="translate(43.60 465.00) scale(0.94 1)" text-anchor="end" font-size="18.5" stroke-width="0.2" stroke="#000">12</text>
<text transform="translate(0.60 483.40) scale(0.94 1)" text-anchor="start" font-size="18.5" stroke-width="0.2" stroke="#000">(c)</text>
<text transform="translate(186.60 665.90) scale(1.0 1)" text-anchor="middle" font-size="18.5" stroke-width="0.2" stroke="#000">|<tspan font-style="italic">q</tspan>|<tspan font-style="italic">d</tspan></text>
<g transform="translate(17.2 573.70) rotate(-90)" font-size="21" stroke="#000" stroke-width="0.2"><text x="-1.5" y="-3.2" font-size="21" font-style="italic" transform="skewX(-10)">ω</text><text x="10.7" y="2.7" font-size="11.5" font-style="italic">p</text><text x="17.2" y="0" font-style="italic">d</text><text x="34.4" y="0" font-style="italic">v</text><text x="43.4" y="3.0" font-size="10" font-style="italic">F</text><path d="M28.2 1.8 L35.1 -16.7" stroke="#000" stroke-width="1.35" fill="none"/></g>
<text transform="translate(120.00 606.50) scale(1.0 1)" text-anchor="middle" font-size="23" stroke-width="0" stroke="#000">α = 200</text>
<text transform="translate(144.60 39.00) scale(0.94 1)" text-anchor="start" font-size="18.5" stroke-width="0.2" fill="#ffc800" stroke="#ffc800">0.5</text>
<text transform="translate(201.00 39.00) scale(0.94 1)" text-anchor="start" font-size="18.5" stroke-width="0.2" fill="#0000ff" stroke="#0000ff">1</text>
<text transform="translate(248.40 38.70) scale(0.94 1)" text-anchor="start" font-size="18.5" stroke-width="0.2" fill="#00f000" stroke="#00f000">2</text>
<text transform="translate(300.00 48.00) scale(0.94 1)" text-anchor="start" font-size="18.5" stroke-width="0.2" fill="#996633" stroke="#996633">5</text>
<text transform="translate(254.50 129.30) scale(1.0 1)" text-anchor="start" font-size="18.5" stroke-width="0.2" fill="#ff0000" stroke="#ff0000"><tspan font-style="italic">k</tspan><tspan font-style="italic" font-size="11" dy="3">F</tspan><tspan dy="-3" font-style="italic"> d</tspan> = 50</text>
</g>
</svg></body></html>
